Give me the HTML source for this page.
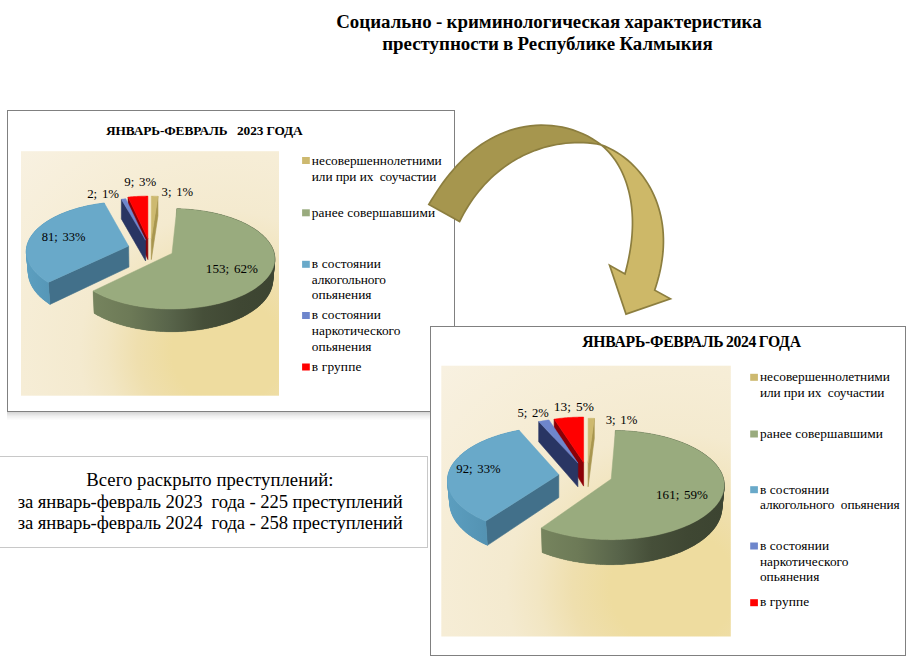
<!DOCTYPE html>
<html lang="ru"><head><meta charset="utf-8"><title>Социально-криминологическая характеристика преступности</title>
<style>html,body{margin:0;padding:0;background:#fff;}body{width:913px;height:658px;overflow:hidden;font-family:"Liberation Serif",serif;}svg{display:block;}</style>
</head><body>
<svg width="913" height="658" viewBox="0 0 913 658" font-family="'Liberation Serif', serif" fill="#000" style="white-space:pre">
<defs><linearGradient id="shv" x1="0" y1="0" x2="0" y2="1"><stop offset="0" stop-color="#000" stop-opacity="0.17"/><stop offset="0.5" stop-color="#000" stop-opacity="0.06"/><stop offset="1" stop-color="#000" stop-opacity="0"/></linearGradient></defs>
<rect width="913" height="658" fill="#fff"/>
<text x="336.20" y="28.0" font-size="18.9" font-weight="bold" xml:space="preserve" style="word-spacing:-0.367px">Социально - криминологическая характеристика</text>
<text x="382.20" y="49.9" font-size="18.9" font-weight="bold" xml:space="preserve" style="word-spacing:-0.467px">преступности в Республике Калмыкия</text>
<rect x="-1" y="456.5" width="428.5" height="91" fill="#fff" stroke="#C8C8C8" stroke-width="1"/>
<text x="86.20" y="486.1" font-size="18.67" font-weight="normal" xml:space="preserve" textLength="247.29" lengthAdjust="spacing">Всего раскрыто преступлений:</text>
<text x="17.80" y="507.8" font-size="18.67" font-weight="normal" xml:space="preserve" textLength="384.91" lengthAdjust="spacing">за январь-февраль 2023  года - 225 преступлений</text>
<text x="17.80" y="529.0" font-size="18.67" font-weight="normal" xml:space="preserve" textLength="384.91" lengthAdjust="spacing">за январь-февраль 2024  года - 258 преступлений</text>
<rect x="7" y="412" width="448" height="8.5" fill="url(#shv)"/>
<rect x="7.5" y="110.5" width="447" height="301" fill="#fff" stroke="#808080" stroke-width="1"/>
<text x="106.10" y="135.2" font-size="13.33" font-weight="bold" xml:space="preserve" textLength="196.61" lengthAdjust="spacing">ЯНВАРЬ-ФЕВРАЛЬ   2023 ГОДА</text>
<radialGradient id="bg1" cx="0.8" cy="0.82" r="1.15" fx="0.8" fy="0.82"><stop offset="0" stop-color="#EEDC9F"/><stop offset="0.187" stop-color="#EEDC9F"/><stop offset="0.303" stop-color="#EFDFAE"/><stop offset="0.406" stop-color="#F2E6C3"/><stop offset="0.5" stop-color="#F4EACF"/><stop offset="0.7" stop-color="#F6EDD6"/><stop offset="1.0" stop-color="#F8F1E1"/></radialGradient>
<rect x="21" y="151.2" width="258" height="244.5" fill="url(#bg1)"/>
<linearGradient id="gs1" gradientUnits="userSpaceOnUse" x1="92" y1="0" x2="277" y2="0"><stop offset="0" stop-color="#76845E"/><stop offset="0.2" stop-color="#6D7A57"/><stop offset="0.42" stop-color="#58644A"/><stop offset="0.6" stop-color="#464F39"/><stop offset="0.8" stop-color="#3F4733"/><stop offset="1" stop-color="#3C4431"/></linearGradient>
<linearGradient id="bs1" gradientUnits="userSpaceOnUse" x1="26" y1="0" x2="60" y2="0"><stop offset="0" stop-color="#5C9FC0"/><stop offset="1" stop-color="#5493B3"/></linearGradient>
<path d="M151.30,238.80 L157.95,196.22 L157.95,215.80 L151.30,259.57Z" fill="#A8964F" stroke="#A8964F" stroke-width="0.6"/>
<path d="M151.30,238.80 L151.30,196.11 L152.63,196.12 L153.96,196.13 L155.29,196.15 L156.62,196.18 L157.95,196.22Z" fill="#CDB96F" stroke="#CDB96F" stroke-width="0.5"/>
<path d="M147.90,238.80 L128.06,197.10 L128.06,216.70 L147.90,259.57Z" fill="#8B0006" stroke="#8B0006" stroke-width="0.6"/>
<path d="M147.90,238.80 L128.06,197.10 L129.47,196.96 L130.87,196.84 L132.28,196.72 L133.69,196.62 L135.10,196.52 L136.52,196.43 L137.94,196.36 L139.36,196.29 L140.78,196.24 L142.20,196.19 L143.63,196.16 L145.05,196.13 L146.47,196.12 L147.90,196.11Z" fill="#FF0000" stroke="#FF0000" stroke-width="0.5"/>
<path d="M145.60,240.20 L121.36,199.23 L121.36,218.89 L145.60,261.01Z" fill="#293563" stroke="#293563" stroke-width="0.6"/>
<path d="M145.60,240.20 L121.36,199.23 L122.48,199.09 L123.61,198.96 L124.74,198.83 L125.87,198.72Z" fill="#6E86CC" stroke="#6E86CC" stroke-width="0.5"/>
<path d="M128.60,246.10 L48.25,282.40 L49.98,304.39 L128.96,267.07Z" fill="#42708A" stroke="#42708A" stroke-width="0.6"/>
<path d="M48.25,282.40 L47.08,281.66 L45.95,280.92 L44.84,280.16 L43.76,279.40 L42.72,278.63 L41.71,277.85 L40.72,277.06 L39.77,276.26 L38.85,275.46 L37.96,274.65 L37.11,273.83 L36.28,273.01 L35.49,272.18 L34.73,271.35 L34.01,270.51 L33.31,269.66 L32.65,268.81 L32.02,267.96 L31.43,267.10 L30.87,266.24 L30.34,265.38 L29.84,264.51 L29.38,263.64 L28.94,262.77 L28.55,261.89 L28.18,261.01 L27.85,260.14 L27.55,259.26 L27.28,258.38 L27.05,257.49 L26.85,256.61 L26.68,255.73 L26.54,254.85 L26.44,253.97 L26.36,253.09 L26.32,252.21 L26.31,251.33 L26.34,250.46 L26.39,249.59 L26.48,248.71 L26.59,247.85 L26.74,246.98 L26.92,246.12 L27.12,245.26 L27.36,244.40 L27.63,243.55 L27.93,242.70 L28.25,241.86 L28.61,241.02 L28.99,240.18 L29.40,239.35 L29.84,238.53 L30.31,237.71 L30.81,236.89 L31.33,236.08 L31.88,235.28 L32.46,234.48 L33.07,233.69 L33.69,232.91 L34.35,232.14 L35.03,231.37 L35.74,230.60 L36.47,229.85 L37.22,229.10 L38.00,228.36 L38.80,227.63 L39.63,226.90 L40.48,226.19 L41.35,225.48 L42.25,224.78 L43.16,224.09 L44.10,223.41 L45.06,222.73 L46.04,222.07 L47.04,221.41 L48.06,220.76 L49.10,220.13 L50.16,219.50 L51.23,218.88 L52.33,218.27 L53.45,217.67 L54.58,217.08 L55.73,216.51 L56.90,215.94 L58.08,215.38 L59.28,214.83 L60.50,214.29 L61.74,213.76 L62.98,213.24 L64.25,212.74 L65.53,212.24 L66.82,211.75 L68.13,211.28 L69.45,210.81 L70.78,210.36 L72.12,209.92 L73.48,209.49 L74.85,209.07 L76.24,208.66 L77.63,208.26 L79.04,207.87 L80.45,207.50 L81.88,207.13 L83.32,206.78 L84.76,206.44 L86.22,206.11 L87.68,205.79 L89.16,205.48 L90.64,205.19 L92.13,204.90 L93.63,204.63 L95.13,204.37 L96.64,204.12 L98.16,203.88 L99.69,203.66 L101.22,203.44 L102.75,203.24 L104.29,203.05 L105.07,222.82 L103.56,223.02 L102.05,223.23 L100.54,223.45 L99.04,223.68 L97.55,223.92 L96.06,224.18 L94.58,224.44 L93.11,224.72 L91.65,225.02 L90.19,225.32 L88.74,225.64 L87.30,225.96 L85.87,226.30 L84.45,226.65 L83.04,227.02 L81.64,227.39 L80.24,227.78 L78.86,228.17 L77.49,228.58 L76.13,229.00 L74.78,229.44 L73.45,229.88 L72.13,230.34 L70.81,230.80 L69.52,231.28 L68.23,231.77 L66.96,232.27 L65.71,232.78 L64.46,233.30 L63.24,233.83 L62.02,234.37 L60.83,234.93 L59.65,235.49 L58.48,236.07 L57.33,236.65 L56.20,237.25 L55.09,237.85 L53.99,238.47 L52.91,239.09 L51.85,239.73 L50.81,240.38 L49.79,241.03 L48.79,241.69 L47.80,242.37 L46.84,243.05 L45.90,243.74 L44.98,244.45 L44.08,245.16 L43.20,245.88 L42.34,246.60 L41.51,247.34 L40.69,248.09 L39.91,248.84 L39.14,249.60 L38.40,250.37 L37.68,251.14 L36.99,251.93 L36.32,252.72 L35.67,253.52 L35.05,254.32 L34.46,255.13 L33.89,255.95 L33.35,256.78 L32.84,257.61 L32.35,258.45 L31.89,259.29 L31.45,260.14 L31.05,260.99 L30.67,261.85 L30.32,262.71 L30.00,263.58 L29.71,264.45 L29.45,265.33 L29.21,266.21 L29.01,267.09 L28.83,267.98 L28.69,268.87 L28.58,269.76 L28.49,270.66 L28.44,271.56 L28.42,272.46 L28.43,273.36 L28.47,274.26 L28.54,275.16 L28.64,276.07 L28.77,276.98 L28.94,277.88 L29.14,278.79 L29.37,279.69 L29.63,280.60 L29.93,281.50 L30.25,282.41 L30.61,283.31 L31.00,284.21 L31.43,285.10 L31.88,286.00 L32.37,286.89 L32.89,287.78 L33.44,288.67 L34.03,289.55 L34.65,290.43 L35.30,291.30 L35.98,292.17 L36.69,293.03 L37.44,293.89 L38.22,294.74 L39.03,295.59 L39.87,296.42 L40.74,297.26 L41.65,298.08 L42.58,298.90 L43.55,299.71 L44.54,300.51 L45.57,301.31 L46.63,302.09 L47.71,302.87 L48.83,303.63 L49.98,304.39Z" fill="url(#bs1)" />
<path d="M48.25,282.40 L47.08,281.66 L48.83,303.63 L49.98,304.39Z M47.08,281.66 L45.95,280.92 L47.71,302.87 L48.83,303.63Z M45.95,280.92 L44.84,280.16 L46.63,302.09 L47.71,302.87Z M44.84,280.16 L43.76,279.40 L45.57,301.31 L46.63,302.09Z M43.76,279.40 L42.72,278.63 L44.54,300.51 L45.57,301.31Z M42.72,278.63 L41.71,277.85 L43.55,299.71 L44.54,300.51Z M41.71,277.85 L40.72,277.06 L42.58,298.90 L43.55,299.71Z M40.72,277.06 L39.77,276.26 L41.65,298.08 L42.58,298.90Z M39.77,276.26 L38.85,275.46 L40.74,297.26 L41.65,298.08Z M38.85,275.46 L37.96,274.65 L39.87,296.42 L40.74,297.26Z M37.96,274.65 L37.11,273.83 L39.03,295.59 L39.87,296.42Z M37.11,273.83 L36.28,273.01 L38.22,294.74 L39.03,295.59Z M36.28,273.01 L35.49,272.18 L37.44,293.89 L38.22,294.74Z M35.49,272.18 L34.73,271.35 L36.69,293.03 L37.44,293.89Z M34.73,271.35 L34.01,270.51 L35.98,292.17 L36.69,293.03Z M34.01,270.51 L33.31,269.66 L35.30,291.30 L35.98,292.17Z M33.31,269.66 L32.65,268.81 L34.65,290.43 L35.30,291.30Z M32.65,268.81 L32.02,267.96 L34.03,289.55 L34.65,290.43Z M32.02,267.96 L31.43,267.10 L33.44,288.67 L34.03,289.55Z M31.43,267.10 L30.87,266.24 L32.89,287.78 L33.44,288.67Z M30.87,266.24 L30.34,265.38 L32.37,286.89 L32.89,287.78Z M30.34,265.38 L29.84,264.51 L31.88,286.00 L32.37,286.89Z M29.84,264.51 L29.38,263.64 L31.43,285.10 L31.88,286.00Z M29.38,263.64 L28.94,262.77 L31.00,284.21 L31.43,285.10Z M28.94,262.77 L28.55,261.89 L30.61,283.31 L31.00,284.21Z M28.55,261.89 L28.18,261.01 L30.25,282.41 L30.61,283.31Z M28.18,261.01 L27.85,260.14 L29.93,281.50 L30.25,282.41Z M27.85,260.14 L27.55,259.26 L29.63,280.60 L29.93,281.50Z M27.55,259.26 L27.28,258.38 L29.37,279.69 L29.63,280.60Z M27.28,258.38 L27.05,257.49 L29.14,278.79 L29.37,279.69Z M27.05,257.49 L26.85,256.61 L28.94,277.88 L29.14,278.79Z M26.85,256.61 L26.68,255.73 L28.77,276.98 L28.94,277.88Z M26.68,255.73 L26.54,254.85 L28.64,276.07 L28.77,276.98Z M26.54,254.85 L26.44,253.97 L28.54,275.16 L28.64,276.07Z M26.44,253.97 L26.36,253.09 L28.47,274.26 L28.54,275.16Z M26.36,253.09 L26.32,252.21 L28.43,273.36 L28.47,274.26Z M26.32,252.21 L26.31,251.33 L28.42,272.46 L28.43,273.36Z M26.31,251.33 L26.34,250.46 L28.44,271.56 L28.42,272.46Z M26.34,250.46 L26.39,249.59 L28.49,270.66 L28.44,271.56Z M26.39,249.59 L26.48,248.71 L28.58,269.76 L28.49,270.66Z M26.48,248.71 L26.59,247.85 L28.69,268.87 L28.58,269.76Z M26.59,247.85 L26.74,246.98 L28.83,267.98 L28.69,268.87Z M26.74,246.98 L26.92,246.12 L29.01,267.09 L28.83,267.98Z M26.92,246.12 L27.12,245.26 L29.21,266.21 L29.01,267.09Z M27.12,245.26 L27.36,244.40 L29.45,265.33 L29.21,266.21Z M27.36,244.40 L27.63,243.55 L29.71,264.45 L29.45,265.33Z M27.63,243.55 L27.93,242.70 L30.00,263.58 L29.71,264.45Z M27.93,242.70 L28.25,241.86 L30.32,262.71 L30.00,263.58Z M28.25,241.86 L28.61,241.02 L30.67,261.85 L30.32,262.71Z M28.61,241.02 L28.99,240.18 L31.05,260.99 L30.67,261.85Z M28.99,240.18 L29.40,239.35 L31.45,260.14 L31.05,260.99Z M29.40,239.35 L29.84,238.53 L31.89,259.29 L31.45,260.14Z M29.84,238.53 L30.31,237.71 L32.35,258.45 L31.89,259.29Z M30.31,237.71 L30.81,236.89 L32.84,257.61 L32.35,258.45Z M30.81,236.89 L31.33,236.08 L33.35,256.78 L32.84,257.61Z M31.33,236.08 L31.88,235.28 L33.89,255.95 L33.35,256.78Z M31.88,235.28 L32.46,234.48 L34.46,255.13 L33.89,255.95Z M32.46,234.48 L33.07,233.69 L35.05,254.32 L34.46,255.13Z M33.07,233.69 L33.69,232.91 L35.67,253.52 L35.05,254.32Z M33.69,232.91 L34.35,232.14 L36.32,252.72 L35.67,253.52Z M34.35,232.14 L35.03,231.37 L36.99,251.93 L36.32,252.72Z M35.03,231.37 L35.74,230.60 L37.68,251.14 L36.99,251.93Z M35.74,230.60 L36.47,229.85 L38.40,250.37 L37.68,251.14Z M36.47,229.85 L37.22,229.10 L39.14,249.60 L38.40,250.37Z M37.22,229.10 L38.00,228.36 L39.91,248.84 L39.14,249.60Z M38.00,228.36 L38.80,227.63 L40.69,248.09 L39.91,248.84Z M38.80,227.63 L39.63,226.90 L41.51,247.34 L40.69,248.09Z M39.63,226.90 L40.48,226.19 L42.34,246.60 L41.51,247.34Z M40.48,226.19 L41.35,225.48 L43.20,245.88 L42.34,246.60Z M41.35,225.48 L42.25,224.78 L44.08,245.16 L43.20,245.88Z M42.25,224.78 L43.16,224.09 L44.98,244.45 L44.08,245.16Z M43.16,224.09 L44.10,223.41 L45.90,243.74 L44.98,244.45Z M44.10,223.41 L45.06,222.73 L46.84,243.05 L45.90,243.74Z M45.06,222.73 L46.04,222.07 L47.80,242.37 L46.84,243.05Z M46.04,222.07 L47.04,221.41 L48.79,241.69 L47.80,242.37Z M47.04,221.41 L48.06,220.76 L49.79,241.03 L48.79,241.69Z M48.06,220.76 L49.10,220.13 L50.81,240.38 L49.79,241.03Z M49.10,220.13 L50.16,219.50 L51.85,239.73 L50.81,240.38Z M50.16,219.50 L51.23,218.88 L52.91,239.09 L51.85,239.73Z M51.23,218.88 L52.33,218.27 L53.99,238.47 L52.91,239.09Z M52.33,218.27 L53.45,217.67 L55.09,237.85 L53.99,238.47Z M53.45,217.67 L54.58,217.08 L56.20,237.25 L55.09,237.85Z M54.58,217.08 L55.73,216.51 L57.33,236.65 L56.20,237.25Z M55.73,216.51 L56.90,215.94 L58.48,236.07 L57.33,236.65Z M56.90,215.94 L58.08,215.38 L59.65,235.49 L58.48,236.07Z M58.08,215.38 L59.28,214.83 L60.83,234.93 L59.65,235.49Z M59.28,214.83 L60.50,214.29 L62.02,234.37 L60.83,234.93Z M60.50,214.29 L61.74,213.76 L63.24,233.83 L62.02,234.37Z M61.74,213.76 L62.98,213.24 L64.46,233.30 L63.24,233.83Z M62.98,213.24 L64.25,212.74 L65.71,232.78 L64.46,233.30Z M64.25,212.74 L65.53,212.24 L66.96,232.27 L65.71,232.78Z M65.53,212.24 L66.82,211.75 L68.23,231.77 L66.96,232.27Z M66.82,211.75 L68.13,211.28 L69.52,231.28 L68.23,231.77Z M68.13,211.28 L69.45,210.81 L70.81,230.80 L69.52,231.28Z M69.45,210.81 L70.78,210.36 L72.13,230.34 L70.81,230.80Z M70.78,210.36 L72.12,209.92 L73.45,229.88 L72.13,230.34Z M72.12,209.92 L73.48,209.49 L74.78,229.44 L73.45,229.88Z M73.48,209.49 L74.85,209.07 L76.13,229.00 L74.78,229.44Z M74.85,209.07 L76.24,208.66 L77.49,228.58 L76.13,229.00Z M76.24,208.66 L77.63,208.26 L78.86,228.17 L77.49,228.58Z M77.63,208.26 L79.04,207.87 L80.24,227.78 L78.86,228.17Z M79.04,207.87 L80.45,207.50 L81.64,227.39 L80.24,227.78Z M80.45,207.50 L81.88,207.13 L83.04,227.02 L81.64,227.39Z M81.88,207.13 L83.32,206.78 L84.45,226.65 L83.04,227.02Z M83.32,206.78 L84.76,206.44 L85.87,226.30 L84.45,226.65Z M84.76,206.44 L86.22,206.11 L87.30,225.96 L85.87,226.30Z M86.22,206.11 L87.68,205.79 L88.74,225.64 L87.30,225.96Z M87.68,205.79 L89.16,205.48 L90.19,225.32 L88.74,225.64Z M89.16,205.48 L90.64,205.19 L91.65,225.02 L90.19,225.32Z M90.64,205.19 L92.13,204.90 L93.11,224.72 L91.65,225.02Z M92.13,204.90 L93.63,204.63 L94.58,224.44 L93.11,224.72Z M93.63,204.63 L95.13,204.37 L96.06,224.18 L94.58,224.44Z M95.13,204.37 L96.64,204.12 L97.55,223.92 L96.06,224.18Z M96.64,204.12 L98.16,203.88 L99.04,223.68 L97.55,223.92Z M98.16,203.88 L99.69,203.66 L100.54,223.45 L99.04,223.68Z M99.69,203.66 L101.22,203.44 L102.05,223.23 L100.54,223.45Z M101.22,203.44 L102.75,203.24 L103.56,223.02 L102.05,223.23Z M102.75,203.24 L104.29,203.05 L105.07,222.82 L103.56,223.02Z" fill="url(#bs1)" stroke="url(#bs1)" stroke-width="0.4" stroke-linejoin="round"/>
<path d="M128.60,246.10 L48.25,282.40 L47.08,281.66 L45.95,280.92 L44.84,280.16 L43.76,279.40 L42.72,278.63 L41.71,277.85 L40.72,277.06 L39.77,276.26 L38.85,275.46 L37.96,274.65 L37.11,273.83 L36.28,273.01 L35.49,272.18 L34.73,271.35 L34.01,270.51 L33.31,269.66 L32.65,268.81 L32.02,267.96 L31.43,267.10 L30.87,266.24 L30.34,265.38 L29.84,264.51 L29.38,263.64 L28.94,262.77 L28.55,261.89 L28.18,261.01 L27.85,260.14 L27.55,259.26 L27.28,258.38 L27.05,257.49 L26.85,256.61 L26.68,255.73 L26.54,254.85 L26.44,253.97 L26.36,253.09 L26.32,252.21 L26.31,251.33 L26.34,250.46 L26.39,249.59 L26.48,248.71 L26.59,247.85 L26.74,246.98 L26.92,246.12 L27.12,245.26 L27.36,244.40 L27.63,243.55 L27.93,242.70 L28.25,241.86 L28.61,241.02 L28.99,240.18 L29.40,239.35 L29.84,238.53 L30.31,237.71 L30.81,236.89 L31.33,236.08 L31.88,235.28 L32.46,234.48 L33.07,233.69 L33.69,232.91 L34.35,232.14 L35.03,231.37 L35.74,230.60 L36.47,229.85 L37.22,229.10 L38.00,228.36 L38.80,227.63 L39.63,226.90 L40.48,226.19 L41.35,225.48 L42.25,224.78 L43.16,224.09 L44.10,223.41 L45.06,222.73 L46.04,222.07 L47.04,221.41 L48.06,220.76 L49.10,220.13 L50.16,219.50 L51.23,218.88 L52.33,218.27 L53.45,217.67 L54.58,217.08 L55.73,216.51 L56.90,215.94 L58.08,215.38 L59.28,214.83 L60.50,214.29 L61.74,213.76 L62.98,213.24 L64.25,212.74 L65.53,212.24 L66.82,211.75 L68.13,211.28 L69.45,210.81 L70.78,210.36 L72.12,209.92 L73.48,209.49 L74.85,209.07 L76.24,208.66 L77.63,208.26 L79.04,207.87 L80.45,207.50 L81.88,207.13 L83.32,206.78 L84.76,206.44 L86.22,206.11 L87.68,205.79 L89.16,205.48 L90.64,205.19 L92.13,204.90 L93.63,204.63 L95.13,204.37 L96.64,204.12 L98.16,203.88 L99.69,203.66 L101.22,203.44 L102.75,203.24 L104.29,203.05Z" fill="#69A9C9" stroke="#69A9C9" stroke-width="0.5"/>
<path d="M176.80,208.75 L178.39,208.80 L179.98,208.85 L181.58,208.92 L183.17,209.00 L184.76,209.09 L186.34,209.19 L187.92,209.31 L189.50,209.43 L191.08,209.57 L192.65,209.72 L194.22,209.89 L195.78,210.06 L197.34,210.25 L198.89,210.45 L200.43,210.66 L201.98,210.88 L203.51,211.11 L205.04,211.36 L206.56,211.62 L208.07,211.89 L209.58,212.17 L211.08,212.46 L212.57,212.77 L214.05,213.09 L215.52,213.42 L216.98,213.76 L218.43,214.11 L219.88,214.47 L221.31,214.85 L222.73,215.23 L224.14,215.63 L225.54,216.04 L226.93,216.46 L228.30,216.89 L229.66,217.33 L231.01,217.79 L232.35,218.25 L233.67,218.73 L234.98,219.21 L236.28,219.71 L237.55,220.22 L238.82,220.74 L240.07,221.27 L241.30,221.81 L242.52,222.36 L243.72,222.92 L244.90,223.49 L246.07,224.07 L247.21,224.66 L248.35,225.27 L249.46,225.88 L250.55,226.50 L251.62,227.13 L252.68,227.77 L253.71,228.42 L254.73,229.08 L255.72,229.75 L256.69,230.42 L257.64,231.11 L258.57,231.81 L259.48,232.51 L260.36,233.22 L261.23,233.94 L262.06,234.67 L262.88,235.41 L263.67,236.15 L264.44,236.91 L265.18,237.67 L265.90,238.43 L266.59,239.21 L267.25,239.99 L267.89,240.78 L268.51,241.58 L269.10,242.38 L269.66,243.19 L270.19,244.00 L270.70,244.82 L271.17,245.65 L271.62,246.48 L272.04,247.31 L272.44,248.16 L272.80,249.00 L273.13,249.85 L273.44,250.71 L273.71,251.57 L273.95,252.43 L274.17,253.30 L274.35,254.17 L274.50,255.04 L274.62,255.92 L274.71,256.80 L274.77,257.68 L274.80,258.56 L274.79,259.44 L274.76,260.33 L274.69,261.22 L274.58,262.11 L274.45,263.00 L274.28,263.88 L274.08,264.77 L273.85,265.66 L273.58,266.55 L273.28,267.44 L272.95,268.32 L272.58,269.21 L272.18,270.09 L271.75,270.97 L271.29,271.85 L270.79,272.73 L270.25,273.60 L269.69,274.47 L269.09,275.33 L268.46,276.20 L267.79,277.05 L267.09,277.90 L266.36,278.75 L265.59,279.59 L264.80,280.43 L263.97,281.26 L263.10,282.08 L262.21,282.90 L261.28,283.71 L260.32,284.51 L259.33,285.31 L258.31,286.10 L257.25,286.87 L256.17,287.64 L255.05,288.41 L253.90,289.16 L252.73,289.90 L251.52,290.63 L250.28,291.35 L249.02,292.07 L247.73,292.77 L246.40,293.46 L245.05,294.13 L243.68,294.80 L242.27,295.45 L240.84,296.10 L239.38,296.72 L237.90,297.34 L236.39,297.94 L234.86,298.53 L233.30,299.11 L231.72,299.67 L230.11,300.22 L228.49,300.75 L226.84,301.27 L225.17,301.77 L223.48,302.26 L221.77,302.73 L220.04,303.19 L218.29,303.63 L216.52,304.05 L214.73,304.46 L212.93,304.85 L211.11,305.23 L209.28,305.59 L207.43,305.93 L205.57,306.25 L203.69,306.56 L201.80,306.85 L199.90,307.12 L197.99,307.37 L196.07,307.61 L194.14,307.82 L192.20,308.02 L190.25,308.20 L188.29,308.37 L186.33,308.51 L184.36,308.64 L182.39,308.74 L180.41,308.83 L178.43,308.90 L176.45,308.95 L174.46,308.99 L172.47,309.00 L170.49,308.99 L168.50,308.97 L166.52,308.93 L164.53,308.87 L162.56,308.79 L160.58,308.69 L158.61,308.57 L156.64,308.44 L154.68,308.28 L152.73,308.11 L150.79,307.92 L148.85,307.71 L146.92,307.49 L145.01,307.24 L143.10,306.98 L141.21,306.70 L139.33,306.40 L137.46,306.08 L135.60,305.75 L133.76,305.40 L131.93,305.03 L130.12,304.65 L128.33,304.25 L126.56,303.83 L124.80,303.40 L123.06,302.95 L121.34,302.49 L119.64,302.01 L117.96,301.51 L116.30,301.00 L114.66,300.47 L113.04,299.93 L111.45,299.38 L109.88,298.81 L108.34,298.23 L106.82,297.63 L105.32,297.02 L103.85,296.40 L102.41,295.76 L100.99,295.11 L99.60,294.45 L98.24,293.78 L96.90,293.10 L95.59,292.40 L94.32,291.69 L93.07,290.98 L94.03,313.21 L95.26,313.95 L96.52,314.67 L97.80,315.39 L99.12,316.09 L100.46,316.78 L101.82,317.46 L103.22,318.13 L104.64,318.78 L106.08,319.42 L107.55,320.05 L109.05,320.66 L110.57,321.26 L112.11,321.85 L113.67,322.42 L115.26,322.97 L116.87,323.51 L118.50,324.04 L120.15,324.55 L121.82,325.04 L123.52,325.52 L125.23,325.98 L126.95,326.42 L128.70,326.85 L130.46,327.26 L132.24,327.66 L134.04,328.04 L135.85,328.40 L137.67,328.74 L139.51,329.06 L141.36,329.37 L143.22,329.66 L145.09,329.93 L146.98,330.18 L148.87,330.41 L150.77,330.63 L152.69,330.82 L154.60,331.00 L156.53,331.16 L158.46,331.30 L160.40,331.42 L162.34,331.52 L164.29,331.60 L166.24,331.66 L168.19,331.71 L170.14,331.73 L172.09,331.74 L174.04,331.72 L176.00,331.69 L177.95,331.64 L179.89,331.56 L181.84,331.47 L183.78,331.36 L185.71,331.23 L187.64,331.08 L189.56,330.92 L191.48,330.73 L193.39,330.53 L195.29,330.30 L197.17,330.06 L199.05,329.80 L200.92,329.52 L202.78,329.23 L204.62,328.91 L206.45,328.58 L208.27,328.23 L210.07,327.86 L211.86,327.47 L213.63,327.07 L215.39,326.65 L217.12,326.21 L218.84,325.76 L220.55,325.29 L222.23,324.81 L223.89,324.31 L225.53,323.79 L227.15,323.26 L228.75,322.71 L230.33,322.15 L231.88,321.57 L233.41,320.98 L234.92,320.37 L236.40,319.75 L237.86,319.12 L239.29,318.47 L240.70,317.81 L242.08,317.14 L243.44,316.45 L244.76,315.76 L246.06,315.05 L247.34,314.33 L248.58,313.60 L249.79,312.85 L250.98,312.10 L252.14,311.34 L253.26,310.57 L254.36,309.78 L255.43,308.99 L256.46,308.19 L257.47,307.38 L258.44,306.56 L259.39,305.74 L260.30,304.91 L261.18,304.07 L262.03,303.22 L262.84,302.37 L263.63,301.51 L264.38,300.64 L265.10,299.77 L265.79,298.89 L266.44,298.01 L267.06,297.13 L267.65,296.24 L268.21,295.34 L268.73,294.45 L269.22,293.55 L269.68,292.64 L270.11,291.74 L270.50,290.83 L270.86,289.92 L271.19,289.01 L271.48,288.10 L271.74,287.19 L271.97,286.27 L272.17,285.36 L272.33,284.44 L272.47,283.53 L272.57,282.62 L272.63,281.70 L272.67,280.79 L272.68,279.88 L272.65,278.98 L272.59,278.07 L272.51,277.17 L272.39,276.27 L272.24,275.37 L272.06,274.47 L271.85,273.58 L271.61,272.70 L271.34,271.81 L271.04,270.93 L270.71,270.06 L270.35,269.19 L269.97,268.32 L269.55,267.46 L269.11,266.61 L268.64,265.76 L268.15,264.92 L267.62,264.08 L267.07,263.25 L266.49,262.42 L265.89,261.61 L265.26,260.80 L264.61,259.99 L263.93,259.19 L263.22,258.41 L262.49,257.62 L261.74,256.85 L260.96,256.08 L260.16,255.33 L259.33,254.58 L258.49,253.84 L257.62,253.10 L256.73,252.38 L255.81,251.67 L254.88,250.96 L253.92,250.26 L252.95,249.58 L251.95,248.90 L250.93,248.23 L249.90,247.57 L248.84,246.92 L247.77,246.29 L246.67,245.66 L245.56,245.04 L244.43,244.43 L243.29,243.83 L242.12,243.25 L240.94,242.67 L239.75,242.10 L238.54,241.55 L237.31,241.00 L236.07,240.47 L234.81,239.95 L233.54,239.44 L232.25,238.94 L230.95,238.45 L229.64,237.97 L228.31,237.50 L226.97,237.05 L225.62,236.60 L224.26,236.17 L222.88,235.75 L221.49,235.34 L220.10,234.95 L218.69,234.56 L217.27,234.19 L215.84,233.82 L214.40,233.48 L212.96,233.14 L211.50,232.81 L210.04,232.50 L208.57,232.20 L207.08,231.91 L205.60,231.63 L204.10,231.36 L202.60,231.11 L201.09,230.87 L199.58,230.64 L198.06,230.42 L196.53,230.22 L195.00,230.03 L193.46,229.85 L191.92,229.68 L190.38,229.52 L188.83,229.38 L187.28,229.25 L185.72,229.13 L184.16,229.03 L182.60,228.93 L181.04,228.85 L179.48,228.78 L177.91,228.73 L176.34,228.68Z" fill="url(#gs1)" />
<path d="M176.80,208.75 L178.39,208.80 L177.91,228.73 L176.34,228.68Z M178.39,208.80 L179.98,208.85 L179.48,228.78 L177.91,228.73Z M179.98,208.85 L181.58,208.92 L181.04,228.85 L179.48,228.78Z M181.58,208.92 L183.17,209.00 L182.60,228.93 L181.04,228.85Z M183.17,209.00 L184.76,209.09 L184.16,229.03 L182.60,228.93Z M184.76,209.09 L186.34,209.19 L185.72,229.13 L184.16,229.03Z M186.34,209.19 L187.92,209.31 L187.28,229.25 L185.72,229.13Z M187.92,209.31 L189.50,209.43 L188.83,229.38 L187.28,229.25Z M189.50,209.43 L191.08,209.57 L190.38,229.52 L188.83,229.38Z M191.08,209.57 L192.65,209.72 L191.92,229.68 L190.38,229.52Z M192.65,209.72 L194.22,209.89 L193.46,229.85 L191.92,229.68Z M194.22,209.89 L195.78,210.06 L195.00,230.03 L193.46,229.85Z M195.78,210.06 L197.34,210.25 L196.53,230.22 L195.00,230.03Z M197.34,210.25 L198.89,210.45 L198.06,230.42 L196.53,230.22Z M198.89,210.45 L200.43,210.66 L199.58,230.64 L198.06,230.42Z M200.43,210.66 L201.98,210.88 L201.09,230.87 L199.58,230.64Z M201.98,210.88 L203.51,211.11 L202.60,231.11 L201.09,230.87Z M203.51,211.11 L205.04,211.36 L204.10,231.36 L202.60,231.11Z M205.04,211.36 L206.56,211.62 L205.60,231.63 L204.10,231.36Z M206.56,211.62 L208.07,211.89 L207.08,231.91 L205.60,231.63Z M208.07,211.89 L209.58,212.17 L208.57,232.20 L207.08,231.91Z M209.58,212.17 L211.08,212.46 L210.04,232.50 L208.57,232.20Z M211.08,212.46 L212.57,212.77 L211.50,232.81 L210.04,232.50Z M212.57,212.77 L214.05,213.09 L212.96,233.14 L211.50,232.81Z M214.05,213.09 L215.52,213.42 L214.40,233.48 L212.96,233.14Z M215.52,213.42 L216.98,213.76 L215.84,233.82 L214.40,233.48Z M216.98,213.76 L218.43,214.11 L217.27,234.19 L215.84,233.82Z M218.43,214.11 L219.88,214.47 L218.69,234.56 L217.27,234.19Z M219.88,214.47 L221.31,214.85 L220.10,234.95 L218.69,234.56Z M221.31,214.85 L222.73,215.23 L221.49,235.34 L220.10,234.95Z M222.73,215.23 L224.14,215.63 L222.88,235.75 L221.49,235.34Z M224.14,215.63 L225.54,216.04 L224.26,236.17 L222.88,235.75Z M225.54,216.04 L226.93,216.46 L225.62,236.60 L224.26,236.17Z M226.93,216.46 L228.30,216.89 L226.97,237.05 L225.62,236.60Z M228.30,216.89 L229.66,217.33 L228.31,237.50 L226.97,237.05Z M229.66,217.33 L231.01,217.79 L229.64,237.97 L228.31,237.50Z M231.01,217.79 L232.35,218.25 L230.95,238.45 L229.64,237.97Z M232.35,218.25 L233.67,218.73 L232.25,238.94 L230.95,238.45Z M233.67,218.73 L234.98,219.21 L233.54,239.44 L232.25,238.94Z M234.98,219.21 L236.28,219.71 L234.81,239.95 L233.54,239.44Z M236.28,219.71 L237.55,220.22 L236.07,240.47 L234.81,239.95Z M237.55,220.22 L238.82,220.74 L237.31,241.00 L236.07,240.47Z M238.82,220.74 L240.07,221.27 L238.54,241.55 L237.31,241.00Z M240.07,221.27 L241.30,221.81 L239.75,242.10 L238.54,241.55Z M241.30,221.81 L242.52,222.36 L240.94,242.67 L239.75,242.10Z M242.52,222.36 L243.72,222.92 L242.12,243.25 L240.94,242.67Z M243.72,222.92 L244.90,223.49 L243.29,243.83 L242.12,243.25Z M244.90,223.49 L246.07,224.07 L244.43,244.43 L243.29,243.83Z M246.07,224.07 L247.21,224.66 L245.56,245.04 L244.43,244.43Z M247.21,224.66 L248.35,225.27 L246.67,245.66 L245.56,245.04Z M248.35,225.27 L249.46,225.88 L247.77,246.29 L246.67,245.66Z M249.46,225.88 L250.55,226.50 L248.84,246.92 L247.77,246.29Z M250.55,226.50 L251.62,227.13 L249.90,247.57 L248.84,246.92Z M251.62,227.13 L252.68,227.77 L250.93,248.23 L249.90,247.57Z M252.68,227.77 L253.71,228.42 L251.95,248.90 L250.93,248.23Z M253.71,228.42 L254.73,229.08 L252.95,249.58 L251.95,248.90Z M254.73,229.08 L255.72,229.75 L253.92,250.26 L252.95,249.58Z M255.72,229.75 L256.69,230.42 L254.88,250.96 L253.92,250.26Z M256.69,230.42 L257.64,231.11 L255.81,251.67 L254.88,250.96Z M257.64,231.11 L258.57,231.81 L256.73,252.38 L255.81,251.67Z M258.57,231.81 L259.48,232.51 L257.62,253.10 L256.73,252.38Z M259.48,232.51 L260.36,233.22 L258.49,253.84 L257.62,253.10Z M260.36,233.22 L261.23,233.94 L259.33,254.58 L258.49,253.84Z M261.23,233.94 L262.06,234.67 L260.16,255.33 L259.33,254.58Z M262.06,234.67 L262.88,235.41 L260.96,256.08 L260.16,255.33Z M262.88,235.41 L263.67,236.15 L261.74,256.85 L260.96,256.08Z M263.67,236.15 L264.44,236.91 L262.49,257.62 L261.74,256.85Z M264.44,236.91 L265.18,237.67 L263.22,258.41 L262.49,257.62Z M265.18,237.67 L265.90,238.43 L263.93,259.19 L263.22,258.41Z M265.90,238.43 L266.59,239.21 L264.61,259.99 L263.93,259.19Z M266.59,239.21 L267.25,239.99 L265.26,260.80 L264.61,259.99Z M267.25,239.99 L267.89,240.78 L265.89,261.61 L265.26,260.80Z M267.89,240.78 L268.51,241.58 L266.49,262.42 L265.89,261.61Z M268.51,241.58 L269.10,242.38 L267.07,263.25 L266.49,262.42Z M269.10,242.38 L269.66,243.19 L267.62,264.08 L267.07,263.25Z M269.66,243.19 L270.19,244.00 L268.15,264.92 L267.62,264.08Z M270.19,244.00 L270.70,244.82 L268.64,265.76 L268.15,264.92Z M270.70,244.82 L271.17,245.65 L269.11,266.61 L268.64,265.76Z M271.17,245.65 L271.62,246.48 L269.55,267.46 L269.11,266.61Z M271.62,246.48 L272.04,247.31 L269.97,268.32 L269.55,267.46Z M272.04,247.31 L272.44,248.16 L270.35,269.19 L269.97,268.32Z M272.44,248.16 L272.80,249.00 L270.71,270.06 L270.35,269.19Z M272.80,249.00 L273.13,249.85 L271.04,270.93 L270.71,270.06Z M273.13,249.85 L273.44,250.71 L271.34,271.81 L271.04,270.93Z M273.44,250.71 L273.71,251.57 L271.61,272.70 L271.34,271.81Z M273.71,251.57 L273.95,252.43 L271.85,273.58 L271.61,272.70Z M273.95,252.43 L274.17,253.30 L272.06,274.47 L271.85,273.58Z M274.17,253.30 L274.35,254.17 L272.24,275.37 L272.06,274.47Z M274.35,254.17 L274.50,255.04 L272.39,276.27 L272.24,275.37Z M274.50,255.04 L274.62,255.92 L272.51,277.17 L272.39,276.27Z M274.62,255.92 L274.71,256.80 L272.59,278.07 L272.51,277.17Z M274.71,256.80 L274.77,257.68 L272.65,278.98 L272.59,278.07Z M274.77,257.68 L274.80,258.56 L272.68,279.88 L272.65,278.98Z M274.80,258.56 L274.79,259.44 L272.67,280.79 L272.68,279.88Z M274.79,259.44 L274.76,260.33 L272.63,281.70 L272.67,280.79Z M274.76,260.33 L274.69,261.22 L272.57,282.62 L272.63,281.70Z M274.69,261.22 L274.58,262.11 L272.47,283.53 L272.57,282.62Z M274.58,262.11 L274.45,263.00 L272.33,284.44 L272.47,283.53Z M274.45,263.00 L274.28,263.88 L272.17,285.36 L272.33,284.44Z M274.28,263.88 L274.08,264.77 L271.97,286.27 L272.17,285.36Z M274.08,264.77 L273.85,265.66 L271.74,287.19 L271.97,286.27Z M273.85,265.66 L273.58,266.55 L271.48,288.10 L271.74,287.19Z M273.58,266.55 L273.28,267.44 L271.19,289.01 L271.48,288.10Z M273.28,267.44 L272.95,268.32 L270.86,289.92 L271.19,289.01Z M272.95,268.32 L272.58,269.21 L270.50,290.83 L270.86,289.92Z M272.58,269.21 L272.18,270.09 L270.11,291.74 L270.50,290.83Z M272.18,270.09 L271.75,270.97 L269.68,292.64 L270.11,291.74Z M271.75,270.97 L271.29,271.85 L269.22,293.55 L269.68,292.64Z M271.29,271.85 L270.79,272.73 L268.73,294.45 L269.22,293.55Z M270.79,272.73 L270.25,273.60 L268.21,295.34 L268.73,294.45Z M270.25,273.60 L269.69,274.47 L267.65,296.24 L268.21,295.34Z M269.69,274.47 L269.09,275.33 L267.06,297.13 L267.65,296.24Z M269.09,275.33 L268.46,276.20 L266.44,298.01 L267.06,297.13Z M268.46,276.20 L267.79,277.05 L265.79,298.89 L266.44,298.01Z M267.79,277.05 L267.09,277.90 L265.10,299.77 L265.79,298.89Z M267.09,277.90 L266.36,278.75 L264.38,300.64 L265.10,299.77Z M266.36,278.75 L265.59,279.59 L263.63,301.51 L264.38,300.64Z M265.59,279.59 L264.80,280.43 L262.84,302.37 L263.63,301.51Z M264.80,280.43 L263.97,281.26 L262.03,303.22 L262.84,302.37Z M263.97,281.26 L263.10,282.08 L261.18,304.07 L262.03,303.22Z M263.10,282.08 L262.21,282.90 L260.30,304.91 L261.18,304.07Z M262.21,282.90 L261.28,283.71 L259.39,305.74 L260.30,304.91Z M261.28,283.71 L260.32,284.51 L258.44,306.56 L259.39,305.74Z M260.32,284.51 L259.33,285.31 L257.47,307.38 L258.44,306.56Z M259.33,285.31 L258.31,286.10 L256.46,308.19 L257.47,307.38Z M258.31,286.10 L257.25,286.87 L255.43,308.99 L256.46,308.19Z M257.25,286.87 L256.17,287.64 L254.36,309.78 L255.43,308.99Z M256.17,287.64 L255.05,288.41 L253.26,310.57 L254.36,309.78Z M255.05,288.41 L253.90,289.16 L252.14,311.34 L253.26,310.57Z M253.90,289.16 L252.73,289.90 L250.98,312.10 L252.14,311.34Z M252.73,289.90 L251.52,290.63 L249.79,312.85 L250.98,312.10Z M251.52,290.63 L250.28,291.35 L248.58,313.60 L249.79,312.85Z M250.28,291.35 L249.02,292.07 L247.34,314.33 L248.58,313.60Z M249.02,292.07 L247.73,292.77 L246.06,315.05 L247.34,314.33Z M247.73,292.77 L246.40,293.46 L244.76,315.76 L246.06,315.05Z M246.40,293.46 L245.05,294.13 L243.44,316.45 L244.76,315.76Z M245.05,294.13 L243.68,294.80 L242.08,317.14 L243.44,316.45Z M243.68,294.80 L242.27,295.45 L240.70,317.81 L242.08,317.14Z M242.27,295.45 L240.84,296.10 L239.29,318.47 L240.70,317.81Z M240.84,296.10 L239.38,296.72 L237.86,319.12 L239.29,318.47Z M239.38,296.72 L237.90,297.34 L236.40,319.75 L237.86,319.12Z M237.90,297.34 L236.39,297.94 L234.92,320.37 L236.40,319.75Z M236.39,297.94 L234.86,298.53 L233.41,320.98 L234.92,320.37Z M234.86,298.53 L233.30,299.11 L231.88,321.57 L233.41,320.98Z M233.30,299.11 L231.72,299.67 L230.33,322.15 L231.88,321.57Z M231.72,299.67 L230.11,300.22 L228.75,322.71 L230.33,322.15Z M230.11,300.22 L228.49,300.75 L227.15,323.26 L228.75,322.71Z M228.49,300.75 L226.84,301.27 L225.53,323.79 L227.15,323.26Z M226.84,301.27 L225.17,301.77 L223.89,324.31 L225.53,323.79Z M225.17,301.77 L223.48,302.26 L222.23,324.81 L223.89,324.31Z M223.48,302.26 L221.77,302.73 L220.55,325.29 L222.23,324.81Z M221.77,302.73 L220.04,303.19 L218.84,325.76 L220.55,325.29Z M220.04,303.19 L218.29,303.63 L217.12,326.21 L218.84,325.76Z M218.29,303.63 L216.52,304.05 L215.39,326.65 L217.12,326.21Z M216.52,304.05 L214.73,304.46 L213.63,327.07 L215.39,326.65Z M214.73,304.46 L212.93,304.85 L211.86,327.47 L213.63,327.07Z M212.93,304.85 L211.11,305.23 L210.07,327.86 L211.86,327.47Z M211.11,305.23 L209.28,305.59 L208.27,328.23 L210.07,327.86Z M209.28,305.59 L207.43,305.93 L206.45,328.58 L208.27,328.23Z M207.43,305.93 L205.57,306.25 L204.62,328.91 L206.45,328.58Z M205.57,306.25 L203.69,306.56 L202.78,329.23 L204.62,328.91Z M203.69,306.56 L201.80,306.85 L200.92,329.52 L202.78,329.23Z M201.80,306.85 L199.90,307.12 L199.05,329.80 L200.92,329.52Z M199.90,307.12 L197.99,307.37 L197.17,330.06 L199.05,329.80Z M197.99,307.37 L196.07,307.61 L195.29,330.30 L197.17,330.06Z M196.07,307.61 L194.14,307.82 L193.39,330.53 L195.29,330.30Z M194.14,307.82 L192.20,308.02 L191.48,330.73 L193.39,330.53Z M192.20,308.02 L190.25,308.20 L189.56,330.92 L191.48,330.73Z M190.25,308.20 L188.29,308.37 L187.64,331.08 L189.56,330.92Z M188.29,308.37 L186.33,308.51 L185.71,331.23 L187.64,331.08Z M186.33,308.51 L184.36,308.64 L183.78,331.36 L185.71,331.23Z M184.36,308.64 L182.39,308.74 L181.84,331.47 L183.78,331.36Z M182.39,308.74 L180.41,308.83 L179.89,331.56 L181.84,331.47Z M180.41,308.83 L178.43,308.90 L177.95,331.64 L179.89,331.56Z M178.43,308.90 L176.45,308.95 L176.00,331.69 L177.95,331.64Z M176.45,308.95 L174.46,308.99 L174.04,331.72 L176.00,331.69Z M174.46,308.99 L172.47,309.00 L172.09,331.74 L174.04,331.72Z M172.47,309.00 L170.49,308.99 L170.14,331.73 L172.09,331.74Z M170.49,308.99 L168.50,308.97 L168.19,331.71 L170.14,331.73Z M168.50,308.97 L166.52,308.93 L166.24,331.66 L168.19,331.71Z M166.52,308.93 L164.53,308.87 L164.29,331.60 L166.24,331.66Z M164.53,308.87 L162.56,308.79 L162.34,331.52 L164.29,331.60Z M162.56,308.79 L160.58,308.69 L160.40,331.42 L162.34,331.52Z M160.58,308.69 L158.61,308.57 L158.46,331.30 L160.40,331.42Z M158.61,308.57 L156.64,308.44 L156.53,331.16 L158.46,331.30Z M156.64,308.44 L154.68,308.28 L154.60,331.00 L156.53,331.16Z M154.68,308.28 L152.73,308.11 L152.69,330.82 L154.60,331.00Z M152.73,308.11 L150.79,307.92 L150.77,330.63 L152.69,330.82Z M150.79,307.92 L148.85,307.71 L148.87,330.41 L150.77,330.63Z M148.85,307.71 L146.92,307.49 L146.98,330.18 L148.87,330.41Z M146.92,307.49 L145.01,307.24 L145.09,329.93 L146.98,330.18Z M145.01,307.24 L143.10,306.98 L143.22,329.66 L145.09,329.93Z M143.10,306.98 L141.21,306.70 L141.36,329.37 L143.22,329.66Z M141.21,306.70 L139.33,306.40 L139.51,329.06 L141.36,329.37Z M139.33,306.40 L137.46,306.08 L137.67,328.74 L139.51,329.06Z M137.46,306.08 L135.60,305.75 L135.85,328.40 L137.67,328.74Z M135.60,305.75 L133.76,305.40 L134.04,328.04 L135.85,328.40Z M133.76,305.40 L131.93,305.03 L132.24,327.66 L134.04,328.04Z M131.93,305.03 L130.12,304.65 L130.46,327.26 L132.24,327.66Z M130.12,304.65 L128.33,304.25 L128.70,326.85 L130.46,327.26Z M128.33,304.25 L126.56,303.83 L126.95,326.42 L128.70,326.85Z M126.56,303.83 L124.80,303.40 L125.23,325.98 L126.95,326.42Z M124.80,303.40 L123.06,302.95 L123.52,325.52 L125.23,325.98Z M123.06,302.95 L121.34,302.49 L121.82,325.04 L123.52,325.52Z M121.34,302.49 L119.64,302.01 L120.15,324.55 L121.82,325.04Z M119.64,302.01 L117.96,301.51 L118.50,324.04 L120.15,324.55Z M117.96,301.51 L116.30,301.00 L116.87,323.51 L118.50,324.04Z M116.30,301.00 L114.66,300.47 L115.26,322.97 L116.87,323.51Z M114.66,300.47 L113.04,299.93 L113.67,322.42 L115.26,322.97Z M113.04,299.93 L111.45,299.38 L112.11,321.85 L113.67,322.42Z M111.45,299.38 L109.88,298.81 L110.57,321.26 L112.11,321.85Z M109.88,298.81 L108.34,298.23 L109.05,320.66 L110.57,321.26Z M108.34,298.23 L106.82,297.63 L107.55,320.05 L109.05,320.66Z M106.82,297.63 L105.32,297.02 L106.08,319.42 L107.55,320.05Z M105.32,297.02 L103.85,296.40 L104.64,318.78 L106.08,319.42Z M103.85,296.40 L102.41,295.76 L103.22,318.13 L104.64,318.78Z M102.41,295.76 L100.99,295.11 L101.82,317.46 L103.22,318.13Z M100.99,295.11 L99.60,294.45 L100.46,316.78 L101.82,317.46Z M99.60,294.45 L98.24,293.78 L99.12,316.09 L100.46,316.78Z M98.24,293.78 L96.90,293.10 L97.80,315.39 L99.12,316.09Z M96.90,293.10 L95.59,292.40 L96.52,314.67 L97.80,315.39Z M95.59,292.40 L94.32,291.69 L95.26,313.95 L96.52,314.67Z M94.32,291.69 L93.07,290.98 L94.03,313.21 L95.26,313.95Z" fill="url(#gs1)" stroke="url(#gs1)" stroke-width="0.4" stroke-linejoin="round"/>
<path d="M172.00,253.40 L176.80,208.75 L178.39,208.80 L179.98,208.85 L181.58,208.92 L183.17,209.00 L184.76,209.09 L186.34,209.19 L187.92,209.31 L189.50,209.43 L191.08,209.57 L192.65,209.72 L194.22,209.89 L195.78,210.06 L197.34,210.25 L198.89,210.45 L200.43,210.66 L201.98,210.88 L203.51,211.11 L205.04,211.36 L206.56,211.62 L208.07,211.89 L209.58,212.17 L211.08,212.46 L212.57,212.77 L214.05,213.09 L215.52,213.42 L216.98,213.76 L218.43,214.11 L219.88,214.47 L221.31,214.85 L222.73,215.23 L224.14,215.63 L225.54,216.04 L226.93,216.46 L228.30,216.89 L229.66,217.33 L231.01,217.79 L232.35,218.25 L233.67,218.73 L234.98,219.21 L236.28,219.71 L237.55,220.22 L238.82,220.74 L240.07,221.27 L241.30,221.81 L242.52,222.36 L243.72,222.92 L244.90,223.49 L246.07,224.07 L247.21,224.66 L248.35,225.27 L249.46,225.88 L250.55,226.50 L251.62,227.13 L252.68,227.77 L253.71,228.42 L254.73,229.08 L255.72,229.75 L256.69,230.42 L257.64,231.11 L258.57,231.81 L259.48,232.51 L260.36,233.22 L261.23,233.94 L262.06,234.67 L262.88,235.41 L263.67,236.15 L264.44,236.91 L265.18,237.67 L265.90,238.43 L266.59,239.21 L267.25,239.99 L267.89,240.78 L268.51,241.58 L269.10,242.38 L269.66,243.19 L270.19,244.00 L270.70,244.82 L271.17,245.65 L271.62,246.48 L272.04,247.31 L272.44,248.16 L272.80,249.00 L273.13,249.85 L273.44,250.71 L273.71,251.57 L273.95,252.43 L274.17,253.30 L274.35,254.17 L274.50,255.04 L274.62,255.92 L274.71,256.80 L274.77,257.68 L274.80,258.56 L274.79,259.44 L274.76,260.33 L274.69,261.22 L274.58,262.11 L274.45,263.00 L274.28,263.88 L274.08,264.77 L273.85,265.66 L273.58,266.55 L273.28,267.44 L272.95,268.32 L272.58,269.21 L272.18,270.09 L271.75,270.97 L271.29,271.85 L270.79,272.73 L270.25,273.60 L269.69,274.47 L269.09,275.33 L268.46,276.20 L267.79,277.05 L267.09,277.90 L266.36,278.75 L265.59,279.59 L264.80,280.43 L263.97,281.26 L263.10,282.08 L262.21,282.90 L261.28,283.71 L260.32,284.51 L259.33,285.31 L258.31,286.10 L257.25,286.87 L256.17,287.64 L255.05,288.41 L253.90,289.16 L252.73,289.90 L251.52,290.63 L250.28,291.35 L249.02,292.07 L247.73,292.77 L246.40,293.46 L245.05,294.13 L243.68,294.80 L242.27,295.45 L240.84,296.10 L239.38,296.72 L237.90,297.34 L236.39,297.94 L234.86,298.53 L233.30,299.11 L231.72,299.67 L230.11,300.22 L228.49,300.75 L226.84,301.27 L225.17,301.77 L223.48,302.26 L221.77,302.73 L220.04,303.19 L218.29,303.63 L216.52,304.05 L214.73,304.46 L212.93,304.85 L211.11,305.23 L209.28,305.59 L207.43,305.93 L205.57,306.25 L203.69,306.56 L201.80,306.85 L199.90,307.12 L197.99,307.37 L196.07,307.61 L194.14,307.82 L192.20,308.02 L190.25,308.20 L188.29,308.37 L186.33,308.51 L184.36,308.64 L182.39,308.74 L180.41,308.83 L178.43,308.90 L176.45,308.95 L174.46,308.99 L172.47,309.00 L170.49,308.99 L168.50,308.97 L166.52,308.93 L164.53,308.87 L162.56,308.79 L160.58,308.69 L158.61,308.57 L156.64,308.44 L154.68,308.28 L152.73,308.11 L150.79,307.92 L148.85,307.71 L146.92,307.49 L145.01,307.24 L143.10,306.98 L141.21,306.70 L139.33,306.40 L137.46,306.08 L135.60,305.75 L133.76,305.40 L131.93,305.03 L130.12,304.65 L128.33,304.25 L126.56,303.83 L124.80,303.40 L123.06,302.95 L121.34,302.49 L119.64,302.01 L117.96,301.51 L116.30,301.00 L114.66,300.47 L113.04,299.93 L111.45,299.38 L109.88,298.81 L108.34,298.23 L106.82,297.63 L105.32,297.02 L103.85,296.40 L102.41,295.76 L100.99,295.11 L99.60,294.45 L98.24,293.78 L96.90,293.10 L95.59,292.40 L94.32,291.69 L93.07,290.98Z" fill="#99AB7E" stroke="#99AB7E" stroke-width="0.5"/>
<rect x="302.1" y="157.0" width="7.7" height="7" fill="#CDB96F"/>
<text x="311.80" y="164.5" font-size="13.33" font-weight="normal" xml:space="preserve" textLength="129.92" lengthAdjust="spacing">несовершеннолетними</text>
<text x="311.80" y="180.5" font-size="13.33" font-weight="normal" xml:space="preserve" textLength="124.66" lengthAdjust="spacing">или при их  соучастии</text>
<rect x="302.1" y="209.3" width="7.7" height="7" fill="#99AB7E"/>
<text x="311.80" y="216.8" font-size="13.33" font-weight="normal" xml:space="preserve" textLength="123.28" lengthAdjust="spacing">ранее совершавшими</text>
<rect x="302.1" y="260.8" width="7.7" height="7" fill="#69A9C9"/>
<text x="311.80" y="268.1" font-size="13.33" font-weight="normal" xml:space="preserve" textLength="69.15" lengthAdjust="spacing">в состоянии</text>
<text x="311.80" y="283.9" font-size="13.33" font-weight="normal" xml:space="preserve" textLength="74.24" lengthAdjust="spacing">алкогольного</text>
<text x="311.80" y="299.3" font-size="13.33" font-weight="normal" xml:space="preserve" textLength="59.68" lengthAdjust="spacing">опьянения</text>
<rect x="302.1" y="312.0" width="7.7" height="7" fill="#6E86CC"/>
<text x="311.80" y="319.4" font-size="13.33" font-weight="normal" xml:space="preserve" textLength="69.15" lengthAdjust="spacing">в состоянии</text>
<text x="311.80" y="335.0" font-size="13.33" font-weight="normal" xml:space="preserve" textLength="88.63" lengthAdjust="spacing">наркотического</text>
<text x="311.80" y="350.5" font-size="13.33" font-weight="normal" xml:space="preserve" textLength="59.68" lengthAdjust="spacing">опьянения</text>
<rect x="302.1" y="363.5" width="7.7" height="7" fill="#FF0000"/>
<text x="311.80" y="370.7" font-size="13.33" font-weight="normal" xml:space="preserve" textLength="49.58" lengthAdjust="spacing">в группе</text>
<text x="205.85" y="273.2" font-size="13.33" font-weight="normal" xml:space="preserve" style="word-spacing:1.6px" textLength="52.11" lengthAdjust="spacingAndGlyphs">153; 62%</text>
<text x="41.71" y="240.7" font-size="13.33" font-weight="normal" xml:space="preserve" style="word-spacing:1.6px" textLength="43.74" lengthAdjust="spacingAndGlyphs">81; 33%</text>
<text x="87.13" y="197.6" font-size="13.33" font-weight="normal" xml:space="preserve" style="word-spacing:1.6px" textLength="31.94" lengthAdjust="spacingAndGlyphs">2; 1%</text>
<text x="124.33" y="185.8" font-size="13.33" font-weight="normal" xml:space="preserve" style="word-spacing:1.6px" textLength="31.94" lengthAdjust="spacingAndGlyphs">9; 3%</text>
<text x="161.55" y="195.7" font-size="13.33" font-weight="normal" xml:space="preserve" style="word-spacing:1.6px" textLength="31.53" lengthAdjust="spacingAndGlyphs">3; 1%</text>
<path d="M601.10,144.80 L605.22,146.40 L609.24,148.21 L613.17,150.24 L616.99,152.47 L620.69,154.89 L624.28,157.49 L627.73,160.26 L631.05,163.19 L634.23,166.28 L637.25,169.50 L640.13,172.86 L642.85,176.35 L645.41,179.95 L647.81,183.66 L650.04,187.47 L652.10,191.37 L653.99,195.36 L655.71,199.42 L657.25,203.54 L658.62,207.73 L659.82,211.97 L660.85,216.26 L661.70,220.59 L662.38,224.95 L662.89,229.33 L663.24,233.74 L663.42,238.16 L663.44,242.58 L663.31,247.01 L663.03,251.43 L662.60,255.85 L662.03,260.24 L661.33,264.62 L660.50,268.98 L659.55,273.30 L658.49,277.59 L657.32,281.84 L656.05,286.04 L654.70,290.20 L670.4,298.8 L626,314.1 L609.6,265.3 L625.00,274.00 L625.90,270.53 L626.75,267.06 L627.56,263.59 L628.32,260.12 L629.02,256.64 L629.67,253.15 L630.26,249.65 L630.79,246.15 L631.25,242.63 L631.64,239.11 L631.96,235.58 L632.21,232.04 L632.38,228.50 L632.47,224.95 L632.47,221.39 L632.39,217.84 L632.22,214.28 L631.97,210.73 L631.61,207.18 L631.16,203.65 L630.62,200.12 L629.97,196.61 L629.21,193.13 L628.35,189.66 L627.38,186.23 L626.30,182.84 L625.11,179.48 L623.80,176.17 L622.37,172.91 L620.82,169.72 L619.15,166.58 L617.35,163.52 L615.43,160.54 L613.38,157.65 L611.19,154.86 L608.87,152.16 L606.42,149.58 L603.83,147.13 L601.10,144.80 Z" fill="#CDB868" stroke="#8C7E3F" stroke-width="1.7" stroke-linejoin="miter"/><path d="M428.80,204.50 L431.47,200.06 L434.25,195.60 L437.13,191.16 L440.12,186.74 L443.24,182.37 L446.47,178.06 L449.83,173.83 L453.32,169.69 L456.93,165.66 L460.68,161.75 L464.55,157.98 L468.55,154.36 L472.68,150.91 L476.94,147.62 L481.32,144.53 L485.81,141.63 L490.42,138.94 L495.13,136.46 L499.95,134.21 L504.86,132.20 L509.86,130.42 L514.94,128.89 L520.08,127.62 L525.29,126.61 L530.54,125.87 L535.83,125.39 L541.14,125.19 L546.46,125.27 L551.78,125.63 L557.08,126.27 L562.34,127.19 L567.56,128.40 L572.70,129.90 L577.76,131.68 L582.72,133.74 L587.55,136.09 L592.24,138.72 L596.76,141.62 L601.10,144.80 L601.10,144.80 L596.75,144.01 L592.37,143.40 L587.95,142.96 L583.52,142.68 L579.07,142.57 L574.62,142.63 L570.16,142.86 L565.72,143.24 L561.29,143.79 L556.89,144.49 L552.51,145.36 L548.17,146.37 L543.87,147.54 L539.62,148.86 L535.42,150.33 L531.27,151.95 L527.19,153.70 L523.17,155.60 L519.22,157.63 L515.35,159.80 L511.55,162.10 L507.84,164.52 L504.21,167.07 L500.67,169.74 L497.23,172.53 L493.87,175.43 L490.62,178.44 L487.46,181.56 L484.40,184.78 L481.45,188.09 L478.60,191.50 L475.85,195.00 L473.21,198.58 L470.67,202.25 L468.24,205.99 L465.92,209.80 L463.71,213.67 L461.60,217.61 L459.60,221.60 Z" fill="#A6964E" stroke="#8C7E3F" stroke-width="1.7" stroke-linejoin="miter"/>
<rect x="430.5" y="326.5" width="475" height="329" fill="#fff" stroke="#808080" stroke-width="1"/>
<text x="582.30" y="346.9" font-size="15.7" font-weight="bold" xml:space="preserve" style="word-spacing:-1.2px" textLength="218.67" lengthAdjust="spacing">ЯНВАРЬ-ФЕВРАЛЬ 2024 ГОДА</text>
<radialGradient id="bg2" cx="0.8" cy="0.82" r="1.15" fx="0.8" fy="0.82"><stop offset="0" stop-color="#EEDC9F"/><stop offset="0.187" stop-color="#EEDC9F"/><stop offset="0.303" stop-color="#EFDFAE"/><stop offset="0.406" stop-color="#F2E6C3"/><stop offset="0.5" stop-color="#F4EACF"/><stop offset="0.7" stop-color="#F6EDD6"/><stop offset="1.0" stop-color="#F8F1E1"/></radialGradient>
<rect x="441.3" y="365.7" width="289.49999999999994" height="270.8" fill="url(#bg2)"/>
<linearGradient id="gs2" gradientUnits="userSpaceOnUse" x1="541" y1="0" x2="725" y2="0"><stop offset="0" stop-color="#76845E"/><stop offset="0.2" stop-color="#6D7A57"/><stop offset="0.42" stop-color="#58644A"/><stop offset="0.6" stop-color="#464F39"/><stop offset="0.8" stop-color="#3F4733"/><stop offset="1" stop-color="#3C4431"/></linearGradient>
<linearGradient id="bs2" gradientUnits="userSpaceOnUse" x1="445" y1="0" x2="485" y2="0"><stop offset="0" stop-color="#5C9FC0"/><stop offset="1" stop-color="#5493B3"/></linearGradient>
<path d="M588.10,463.10 L594.34,418.33 L594.34,438.26 L588.10,486.80Z" fill="#A8964F" stroke="#A8964F" stroke-width="0.6"/>
<path d="M588.10,463.10 L588.10,418.24 L589.66,418.25 L591.22,418.26 L592.78,418.29 L594.34,418.33Z" fill="#CDB96F" stroke="#CDB96F" stroke-width="0.5"/>
<path d="M583.60,462.40 L554.13,419.08 L554.13,439.04 L583.60,486.10Z" fill="#8B0006" stroke="#8B0006" stroke-width="0.6"/>
<path d="M583.60,462.40 L554.13,419.08 L555.64,418.88 L557.17,418.68 L558.70,418.49 L560.23,418.32 L561.77,418.16 L563.31,418.01 L564.86,417.86 L566.41,417.74 L567.96,417.62 L569.51,417.51 L571.07,417.41 L572.63,417.33 L574.20,417.26 L575.76,417.20 L577.33,417.14 L578.89,417.11 L580.46,417.08 L582.03,417.06 L583.60,417.05Z" fill="#FF0000" stroke="#FF0000" stroke-width="0.5"/>
<path d="M577.90,463.10 L538.68,421.62 L538.68,441.68 L577.90,486.80Z" fill="#293563" stroke="#293563" stroke-width="0.6"/>
<path d="M577.90,463.10 L538.68,421.62 L540.14,421.34 L541.61,421.07 L543.08,420.82 L544.55,420.57 L546.04,420.34 L547.53,420.12 L549.02,419.90Z" fill="#6E86CC" stroke="#6E86CC" stroke-width="0.5"/>
<path d="M558.80,474.60 L485.72,521.12 L487.40,545.37 L558.80,497.60Z" fill="#42708A" stroke="#42708A" stroke-width="0.6"/>
<path d="M485.72,521.12 L484.14,520.45 L482.60,519.76 L481.08,519.06 L479.60,518.35 L478.14,517.62 L476.71,516.88 L475.32,516.13 L473.95,515.37 L472.62,514.60 L471.32,513.81 L470.05,513.02 L468.81,512.21 L467.61,511.40 L466.44,510.57 L465.30,509.74 L464.20,508.90 L463.13,508.04 L462.09,507.19 L461.09,506.32 L460.13,505.44 L459.20,504.56 L458.30,503.67 L457.44,502.78 L456.61,501.88 L455.82,500.97 L455.07,500.06 L454.35,499.14 L453.67,498.22 L453.02,497.30 L452.41,496.37 L451.84,495.43 L451.30,494.50 L450.80,493.56 L450.33,492.62 L449.90,491.67 L449.50,490.73 L449.14,489.78 L448.82,488.83 L448.53,487.88 L448.28,486.93 L448.06,485.98 L447.88,485.03 L447.73,484.08 L447.62,483.13 L447.55,482.18 L447.50,481.23 L447.50,480.29 L447.52,479.34 L447.58,478.40 L447.68,477.46 L447.81,476.52 L447.97,475.59 L448.17,474.66 L448.39,473.73 L448.66,472.81 L448.95,471.89 L449.28,470.98 L449.63,470.07 L450.02,469.16 L450.44,468.26 L450.89,467.37 L451.38,466.48 L451.89,465.60 L452.43,464.72 L453.00,463.85 L453.60,462.99 L454.23,462.13 L454.89,461.28 L455.58,460.44 L456.30,459.60 L457.04,458.77 L457.81,457.95 L458.61,457.14 L459.43,456.33 L460.28,455.54 L461.15,454.75 L462.05,453.97 L462.98,453.20 L463.93,452.43 L464.90,451.68 L465.90,450.94 L466.92,450.20 L467.96,449.48 L469.03,448.76 L470.12,448.06 L471.23,447.36 L472.36,446.68 L473.51,446.00 L474.69,445.34 L475.88,444.68 L477.09,444.04 L478.33,443.40 L479.58,442.78 L480.85,442.17 L482.14,441.57 L483.45,440.98 L484.77,440.40 L486.11,439.83 L487.47,439.27 L488.84,438.73 L490.23,438.20 L491.64,437.67 L493.06,437.16 L494.49,436.66 L495.94,436.18 L497.40,435.70 L498.88,435.24 L500.37,434.78 L501.87,434.34 L503.39,433.92 L504.91,433.50 L506.45,433.10 L508.00,432.71 L509.56,432.33 L511.13,431.96 L512.72,431.60 L514.31,431.26 L515.91,430.93 L517.52,430.61 L519.13,430.31 L520.25,450.74 L518.66,451.06 L517.08,451.39 L515.51,451.74 L513.94,452.09 L512.39,452.46 L510.85,452.84 L509.31,453.24 L507.79,453.65 L506.28,454.07 L504.77,454.50 L503.29,454.95 L501.81,455.41 L500.34,455.88 L498.89,456.36 L497.45,456.86 L496.03,457.36 L494.62,457.88 L493.22,458.42 L491.84,458.96 L490.48,459.52 L489.13,460.08 L487.79,460.66 L486.47,461.26 L485.17,461.86 L483.89,462.47 L482.62,463.10 L481.37,463.74 L480.14,464.39 L478.93,465.05 L477.74,465.72 L476.56,466.40 L475.41,467.09 L474.28,467.80 L473.16,468.51 L472.07,469.24 L471.00,469.97 L469.95,470.72 L468.93,471.47 L467.92,472.24 L466.94,473.01 L465.99,473.80 L465.05,474.59 L464.14,475.39 L463.26,476.21 L462.40,477.03 L461.56,477.86 L460.75,478.70 L459.97,479.54 L459.21,480.40 L458.48,481.26 L457.78,482.13 L457.11,483.01 L456.46,483.90 L455.84,484.79 L455.25,485.69 L454.68,486.60 L454.15,487.51 L453.65,488.43 L453.17,489.36 L452.73,490.29 L452.32,491.23 L451.93,492.17 L451.58,493.12 L451.26,494.07 L450.97,495.03 L450.72,495.99 L450.49,496.96 L450.30,497.93 L450.14,498.90 L450.01,499.87 L449.92,500.85 L449.86,501.83 L449.83,502.82 L449.84,503.80 L449.88,504.79 L449.96,505.78 L450.07,506.77 L450.21,507.76 L450.39,508.75 L450.60,509.74 L450.85,510.73 L451.13,511.72 L451.45,512.71 L451.81,513.70 L452.19,514.68 L452.62,515.67 L453.08,516.65 L453.57,517.63 L454.10,518.60 L454.67,519.57 L455.27,520.54 L455.90,521.51 L456.57,522.47 L457.28,523.42 L458.02,524.37 L458.80,525.32 L459.61,526.26 L460.45,527.19 L461.33,528.11 L462.25,529.03 L463.20,529.94 L464.18,530.85 L465.20,531.74 L466.25,532.63 L467.34,533.51 L468.45,534.38 L469.60,535.23 L470.79,536.08 L472.00,536.92 L473.25,537.75 L474.53,538.57 L475.84,539.37 L477.18,540.17 L478.55,540.95 L479.96,541.72 L481.39,542.48 L482.85,543.22 L484.34,543.95 L485.86,544.67 L487.40,545.37Z" fill="url(#bs2)" />
<path d="M485.72,521.12 L484.14,520.45 L485.86,544.67 L487.40,545.37Z M484.14,520.45 L482.60,519.76 L484.34,543.95 L485.86,544.67Z M482.60,519.76 L481.08,519.06 L482.85,543.22 L484.34,543.95Z M481.08,519.06 L479.60,518.35 L481.39,542.48 L482.85,543.22Z M479.60,518.35 L478.14,517.62 L479.96,541.72 L481.39,542.48Z M478.14,517.62 L476.71,516.88 L478.55,540.95 L479.96,541.72Z M476.71,516.88 L475.32,516.13 L477.18,540.17 L478.55,540.95Z M475.32,516.13 L473.95,515.37 L475.84,539.37 L477.18,540.17Z M473.95,515.37 L472.62,514.60 L474.53,538.57 L475.84,539.37Z M472.62,514.60 L471.32,513.81 L473.25,537.75 L474.53,538.57Z M471.32,513.81 L470.05,513.02 L472.00,536.92 L473.25,537.75Z M470.05,513.02 L468.81,512.21 L470.79,536.08 L472.00,536.92Z M468.81,512.21 L467.61,511.40 L469.60,535.23 L470.79,536.08Z M467.61,511.40 L466.44,510.57 L468.45,534.38 L469.60,535.23Z M466.44,510.57 L465.30,509.74 L467.34,533.51 L468.45,534.38Z M465.30,509.74 L464.20,508.90 L466.25,532.63 L467.34,533.51Z M464.20,508.90 L463.13,508.04 L465.20,531.74 L466.25,532.63Z M463.13,508.04 L462.09,507.19 L464.18,530.85 L465.20,531.74Z M462.09,507.19 L461.09,506.32 L463.20,529.94 L464.18,530.85Z M461.09,506.32 L460.13,505.44 L462.25,529.03 L463.20,529.94Z M460.13,505.44 L459.20,504.56 L461.33,528.11 L462.25,529.03Z M459.20,504.56 L458.30,503.67 L460.45,527.19 L461.33,528.11Z M458.30,503.67 L457.44,502.78 L459.61,526.26 L460.45,527.19Z M457.44,502.78 L456.61,501.88 L458.80,525.32 L459.61,526.26Z M456.61,501.88 L455.82,500.97 L458.02,524.37 L458.80,525.32Z M455.82,500.97 L455.07,500.06 L457.28,523.42 L458.02,524.37Z M455.07,500.06 L454.35,499.14 L456.57,522.47 L457.28,523.42Z M454.35,499.14 L453.67,498.22 L455.90,521.51 L456.57,522.47Z M453.67,498.22 L453.02,497.30 L455.27,520.54 L455.90,521.51Z M453.02,497.30 L452.41,496.37 L454.67,519.57 L455.27,520.54Z M452.41,496.37 L451.84,495.43 L454.10,518.60 L454.67,519.57Z M451.84,495.43 L451.30,494.50 L453.57,517.63 L454.10,518.60Z M451.30,494.50 L450.80,493.56 L453.08,516.65 L453.57,517.63Z M450.80,493.56 L450.33,492.62 L452.62,515.67 L453.08,516.65Z M450.33,492.62 L449.90,491.67 L452.19,514.68 L452.62,515.67Z M449.90,491.67 L449.50,490.73 L451.81,513.70 L452.19,514.68Z M449.50,490.73 L449.14,489.78 L451.45,512.71 L451.81,513.70Z M449.14,489.78 L448.82,488.83 L451.13,511.72 L451.45,512.71Z M448.82,488.83 L448.53,487.88 L450.85,510.73 L451.13,511.72Z M448.53,487.88 L448.28,486.93 L450.60,509.74 L450.85,510.73Z M448.28,486.93 L448.06,485.98 L450.39,508.75 L450.60,509.74Z M448.06,485.98 L447.88,485.03 L450.21,507.76 L450.39,508.75Z M447.88,485.03 L447.73,484.08 L450.07,506.77 L450.21,507.76Z M447.73,484.08 L447.62,483.13 L449.96,505.78 L450.07,506.77Z M447.62,483.13 L447.55,482.18 L449.88,504.79 L449.96,505.78Z M447.55,482.18 L447.50,481.23 L449.84,503.80 L449.88,504.79Z M447.50,481.23 L447.50,480.29 L449.83,502.82 L449.84,503.80Z M447.50,480.29 L447.52,479.34 L449.86,501.83 L449.83,502.82Z M447.52,479.34 L447.58,478.40 L449.92,500.85 L449.86,501.83Z M447.58,478.40 L447.68,477.46 L450.01,499.87 L449.92,500.85Z M447.68,477.46 L447.81,476.52 L450.14,498.90 L450.01,499.87Z M447.81,476.52 L447.97,475.59 L450.30,497.93 L450.14,498.90Z M447.97,475.59 L448.17,474.66 L450.49,496.96 L450.30,497.93Z M448.17,474.66 L448.39,473.73 L450.72,495.99 L450.49,496.96Z M448.39,473.73 L448.66,472.81 L450.97,495.03 L450.72,495.99Z M448.66,472.81 L448.95,471.89 L451.26,494.07 L450.97,495.03Z M448.95,471.89 L449.28,470.98 L451.58,493.12 L451.26,494.07Z M449.28,470.98 L449.63,470.07 L451.93,492.17 L451.58,493.12Z M449.63,470.07 L450.02,469.16 L452.32,491.23 L451.93,492.17Z M450.02,469.16 L450.44,468.26 L452.73,490.29 L452.32,491.23Z M450.44,468.26 L450.89,467.37 L453.17,489.36 L452.73,490.29Z M450.89,467.37 L451.38,466.48 L453.65,488.43 L453.17,489.36Z M451.38,466.48 L451.89,465.60 L454.15,487.51 L453.65,488.43Z M451.89,465.60 L452.43,464.72 L454.68,486.60 L454.15,487.51Z M452.43,464.72 L453.00,463.85 L455.25,485.69 L454.68,486.60Z M453.00,463.85 L453.60,462.99 L455.84,484.79 L455.25,485.69Z M453.60,462.99 L454.23,462.13 L456.46,483.90 L455.84,484.79Z M454.23,462.13 L454.89,461.28 L457.11,483.01 L456.46,483.90Z M454.89,461.28 L455.58,460.44 L457.78,482.13 L457.11,483.01Z M455.58,460.44 L456.30,459.60 L458.48,481.26 L457.78,482.13Z M456.30,459.60 L457.04,458.77 L459.21,480.40 L458.48,481.26Z M457.04,458.77 L457.81,457.95 L459.97,479.54 L459.21,480.40Z M457.81,457.95 L458.61,457.14 L460.75,478.70 L459.97,479.54Z M458.61,457.14 L459.43,456.33 L461.56,477.86 L460.75,478.70Z M459.43,456.33 L460.28,455.54 L462.40,477.03 L461.56,477.86Z M460.28,455.54 L461.15,454.75 L463.26,476.21 L462.40,477.03Z M461.15,454.75 L462.05,453.97 L464.14,475.39 L463.26,476.21Z M462.05,453.97 L462.98,453.20 L465.05,474.59 L464.14,475.39Z M462.98,453.20 L463.93,452.43 L465.99,473.80 L465.05,474.59Z M463.93,452.43 L464.90,451.68 L466.94,473.01 L465.99,473.80Z M464.90,451.68 L465.90,450.94 L467.92,472.24 L466.94,473.01Z M465.90,450.94 L466.92,450.20 L468.93,471.47 L467.92,472.24Z M466.92,450.20 L467.96,449.48 L469.95,470.72 L468.93,471.47Z M467.96,449.48 L469.03,448.76 L471.00,469.97 L469.95,470.72Z M469.03,448.76 L470.12,448.06 L472.07,469.24 L471.00,469.97Z M470.12,448.06 L471.23,447.36 L473.16,468.51 L472.07,469.24Z M471.23,447.36 L472.36,446.68 L474.28,467.80 L473.16,468.51Z M472.36,446.68 L473.51,446.00 L475.41,467.09 L474.28,467.80Z M473.51,446.00 L474.69,445.34 L476.56,466.40 L475.41,467.09Z M474.69,445.34 L475.88,444.68 L477.74,465.72 L476.56,466.40Z M475.88,444.68 L477.09,444.04 L478.93,465.05 L477.74,465.72Z M477.09,444.04 L478.33,443.40 L480.14,464.39 L478.93,465.05Z M478.33,443.40 L479.58,442.78 L481.37,463.74 L480.14,464.39Z M479.58,442.78 L480.85,442.17 L482.62,463.10 L481.37,463.74Z M480.85,442.17 L482.14,441.57 L483.89,462.47 L482.62,463.10Z M482.14,441.57 L483.45,440.98 L485.17,461.86 L483.89,462.47Z M483.45,440.98 L484.77,440.40 L486.47,461.26 L485.17,461.86Z M484.77,440.40 L486.11,439.83 L487.79,460.66 L486.47,461.26Z M486.11,439.83 L487.47,439.27 L489.13,460.08 L487.79,460.66Z M487.47,439.27 L488.84,438.73 L490.48,459.52 L489.13,460.08Z M488.84,438.73 L490.23,438.20 L491.84,458.96 L490.48,459.52Z M490.23,438.20 L491.64,437.67 L493.22,458.42 L491.84,458.96Z M491.64,437.67 L493.06,437.16 L494.62,457.88 L493.22,458.42Z M493.06,437.16 L494.49,436.66 L496.03,457.36 L494.62,457.88Z M494.49,436.66 L495.94,436.18 L497.45,456.86 L496.03,457.36Z M495.94,436.18 L497.40,435.70 L498.89,456.36 L497.45,456.86Z M497.40,435.70 L498.88,435.24 L500.34,455.88 L498.89,456.36Z M498.88,435.24 L500.37,434.78 L501.81,455.41 L500.34,455.88Z M500.37,434.78 L501.87,434.34 L503.29,454.95 L501.81,455.41Z M501.87,434.34 L503.39,433.92 L504.77,454.50 L503.29,454.95Z M503.39,433.92 L504.91,433.50 L506.28,454.07 L504.77,454.50Z M504.91,433.50 L506.45,433.10 L507.79,453.65 L506.28,454.07Z M506.45,433.10 L508.00,432.71 L509.31,453.24 L507.79,453.65Z M508.00,432.71 L509.56,432.33 L510.85,452.84 L509.31,453.24Z M509.56,432.33 L511.13,431.96 L512.39,452.46 L510.85,452.84Z M511.13,431.96 L512.72,431.60 L513.94,452.09 L512.39,452.46Z M512.72,431.60 L514.31,431.26 L515.51,451.74 L513.94,452.09Z M514.31,431.26 L515.91,430.93 L517.08,451.39 L515.51,451.74Z M515.91,430.93 L517.52,430.61 L518.66,451.06 L517.08,451.39Z M517.52,430.61 L519.13,430.31 L520.25,450.74 L518.66,451.06Z" fill="url(#bs2)" stroke="url(#bs2)" stroke-width="0.4" stroke-linejoin="round"/>
<path d="M558.80,474.60 L485.72,521.12 L484.14,520.45 L482.60,519.76 L481.08,519.06 L479.60,518.35 L478.14,517.62 L476.71,516.88 L475.32,516.13 L473.95,515.37 L472.62,514.60 L471.32,513.81 L470.05,513.02 L468.81,512.21 L467.61,511.40 L466.44,510.57 L465.30,509.74 L464.20,508.90 L463.13,508.04 L462.09,507.19 L461.09,506.32 L460.13,505.44 L459.20,504.56 L458.30,503.67 L457.44,502.78 L456.61,501.88 L455.82,500.97 L455.07,500.06 L454.35,499.14 L453.67,498.22 L453.02,497.30 L452.41,496.37 L451.84,495.43 L451.30,494.50 L450.80,493.56 L450.33,492.62 L449.90,491.67 L449.50,490.73 L449.14,489.78 L448.82,488.83 L448.53,487.88 L448.28,486.93 L448.06,485.98 L447.88,485.03 L447.73,484.08 L447.62,483.13 L447.55,482.18 L447.50,481.23 L447.50,480.29 L447.52,479.34 L447.58,478.40 L447.68,477.46 L447.81,476.52 L447.97,475.59 L448.17,474.66 L448.39,473.73 L448.66,472.81 L448.95,471.89 L449.28,470.98 L449.63,470.07 L450.02,469.16 L450.44,468.26 L450.89,467.37 L451.38,466.48 L451.89,465.60 L452.43,464.72 L453.00,463.85 L453.60,462.99 L454.23,462.13 L454.89,461.28 L455.58,460.44 L456.30,459.60 L457.04,458.77 L457.81,457.95 L458.61,457.14 L459.43,456.33 L460.28,455.54 L461.15,454.75 L462.05,453.97 L462.98,453.20 L463.93,452.43 L464.90,451.68 L465.90,450.94 L466.92,450.20 L467.96,449.48 L469.03,448.76 L470.12,448.06 L471.23,447.36 L472.36,446.68 L473.51,446.00 L474.69,445.34 L475.88,444.68 L477.09,444.04 L478.33,443.40 L479.58,442.78 L480.85,442.17 L482.14,441.57 L483.45,440.98 L484.77,440.40 L486.11,439.83 L487.47,439.27 L488.84,438.73 L490.23,438.20 L491.64,437.67 L493.06,437.16 L494.49,436.66 L495.94,436.18 L497.40,435.70 L498.88,435.24 L500.37,434.78 L501.87,434.34 L503.39,433.92 L504.91,433.50 L506.45,433.10 L508.00,432.71 L509.56,432.33 L511.13,431.96 L512.72,431.60 L514.31,431.26 L515.91,430.93 L517.52,430.61 L519.13,430.31Z" fill="#69A9C9" stroke="#69A9C9" stroke-width="0.5"/>
<path d="M615.41,430.49 L617.15,430.53 L618.90,430.58 L620.64,430.64 L622.38,430.72 L624.12,430.81 L625.86,430.91 L627.59,431.03 L629.32,431.16 L631.05,431.30 L632.77,431.45 L634.49,431.62 L636.20,431.80 L637.91,432.00 L639.61,432.20 L641.30,432.42 L642.99,432.66 L644.68,432.90 L646.35,433.16 L648.02,433.43 L649.69,433.71 L651.34,434.01 L652.99,434.32 L654.62,434.64 L656.25,434.98 L657.87,435.32 L659.48,435.68 L661.07,436.06 L662.66,436.44 L664.24,436.84 L665.80,437.25 L667.35,437.67 L668.89,438.10 L670.42,438.55 L671.94,439.01 L673.44,439.48 L674.93,439.96 L676.40,440.46 L677.86,440.96 L679.31,441.48 L680.73,442.01 L682.15,442.55 L683.55,443.11 L684.93,443.67 L686.29,444.25 L687.64,444.84 L688.97,445.44 L690.28,446.05 L691.57,446.67 L692.84,447.30 L694.10,447.94 L695.33,448.60 L696.54,449.26 L697.74,449.94 L698.91,450.63 L700.06,451.32 L701.19,452.03 L702.30,452.75 L703.38,453.47 L704.45,454.21 L705.48,454.95 L706.50,455.71 L707.49,456.48 L708.46,457.25 L709.40,458.03 L710.31,458.83 L711.20,459.63 L712.07,460.44 L712.90,461.25 L713.71,462.08 L714.50,462.91 L715.25,463.76 L715.98,464.61 L716.68,465.46 L717.35,466.33 L717.99,467.20 L718.60,468.08 L719.18,468.96 L719.74,469.85 L720.26,470.75 L720.75,471.65 L721.21,472.56 L721.63,473.48 L722.03,474.40 L722.39,475.32 L722.72,476.25 L723.02,477.19 L723.29,478.12 L723.52,479.07 L723.72,480.01 L723.88,480.96 L724.01,481.91 L724.11,482.87 L724.17,483.82 L724.20,484.78 L724.19,485.75 L724.15,486.71 L724.07,487.67 L723.96,488.64 L723.81,489.60 L723.62,490.57 L723.40,491.54 L723.14,492.50 L722.85,493.47 L722.52,494.43 L722.15,495.40 L721.75,496.36 L721.31,497.32 L720.84,498.28 L720.32,499.23 L719.77,500.18 L719.19,501.13 L718.57,502.08 L717.91,503.02 L717.21,503.95 L716.48,504.88 L715.71,505.81 L714.91,506.73 L714.07,507.65 L713.19,508.56 L712.28,509.46 L711.33,510.35 L710.35,511.24 L709.33,512.12 L708.28,513.00 L707.19,513.86 L706.06,514.72 L704.91,515.56 L703.71,516.40 L702.49,517.23 L701.23,518.05 L699.94,518.85 L698.61,519.65 L697.26,520.44 L695.87,521.21 L694.45,521.97 L692.99,522.72 L691.51,523.46 L690.00,524.18 L688.45,524.90 L686.88,525.59 L685.28,526.28 L683.65,526.95 L682.00,527.61 L680.31,528.25 L678.60,528.87 L676.87,529.48 L675.10,530.08 L673.32,530.66 L671.51,531.22 L669.67,531.77 L667.81,532.30 L665.94,532.82 L664.03,533.31 L662.11,533.79 L660.17,534.26 L658.21,534.70 L656.23,535.13 L654.23,535.54 L652.22,535.93 L650.19,536.30 L648.14,536.65 L646.08,536.98 L644.01,537.30 L641.92,537.59 L639.82,537.87 L637.71,538.13 L635.59,538.36 L633.46,538.58 L631.31,538.78 L629.17,538.96 L627.01,539.11 L624.85,539.25 L622.68,539.37 L620.51,539.46 L618.33,539.54 L616.15,539.60 L613.97,539.63 L611.79,539.65 L609.61,539.64 L607.42,539.62 L605.24,539.57 L603.07,539.51 L600.89,539.42 L598.72,539.32 L596.56,539.19 L594.40,539.04 L592.24,538.88 L590.10,538.69 L587.96,538.48 L585.83,538.26 L583.72,538.01 L581.61,537.74 L579.52,537.46 L577.43,537.16 L575.37,536.83 L573.31,536.49 L571.27,536.13 L569.25,535.75 L567.24,535.35 L565.25,534.93 L563.28,534.50 L561.33,534.05 L559.40,533.57 L557.49,533.09 L555.60,532.58 L553.73,532.06 L551.88,531.52 L550.06,530.97 L548.26,530.40 L546.48,529.81 L544.73,529.21 L543.01,528.59 L541.31,527.95 L542.05,552.49 L543.72,553.15 L545.42,553.79 L547.14,554.42 L548.88,555.03 L550.65,555.63 L552.44,556.21 L554.26,556.77 L556.10,557.31 L557.95,557.84 L559.83,558.35 L561.73,558.84 L563.65,559.31 L565.59,559.76 L567.54,560.19 L569.52,560.61 L571.51,561.01 L573.51,561.38 L575.53,561.74 L577.56,562.08 L579.61,562.39 L581.67,562.69 L583.74,562.97 L585.82,563.22 L587.91,563.46 L590.01,563.67 L592.12,563.87 L594.24,564.04 L596.36,564.20 L598.49,564.33 L600.62,564.44 L602.76,564.53 L604.90,564.60 L607.04,564.64 L609.19,564.67 L611.33,564.67 L613.48,564.66 L615.62,564.62 L617.76,564.56 L619.90,564.48 L622.04,564.38 L624.17,564.26 L626.30,564.12 L628.42,563.95 L630.53,563.77 L632.63,563.56 L634.73,563.33 L636.81,563.09 L638.89,562.82 L640.95,562.53 L643.01,562.22 L645.04,561.90 L647.07,561.55 L649.08,561.18 L651.08,560.79 L653.06,560.39 L655.02,559.96 L656.97,559.52 L658.89,559.05 L660.80,558.57 L662.69,558.07 L664.56,557.56 L666.41,557.02 L668.23,556.47 L670.04,555.90 L671.82,555.31 L673.57,554.70 L675.30,554.08 L677.01,553.45 L678.69,552.79 L680.35,552.13 L681.98,551.44 L683.58,550.74 L685.15,550.03 L686.70,549.30 L688.21,548.56 L689.70,547.81 L691.16,547.04 L692.58,546.26 L693.98,545.46 L695.35,544.65 L696.68,543.84 L697.98,543.01 L699.25,542.17 L700.49,541.31 L701.70,540.45 L702.87,539.58 L704.01,538.70 L705.11,537.80 L706.18,536.90 L707.22,535.99 L708.22,535.08 L709.18,534.15 L710.12,533.22 L711.01,532.28 L711.87,531.33 L712.70,530.37 L713.49,529.41 L714.25,528.45 L714.96,527.48 L715.65,526.50 L716.30,525.52 L716.91,524.54 L717.48,523.55 L718.02,522.56 L718.53,521.56 L718.99,520.56 L719.43,519.56 L719.82,518.56 L720.18,517.56 L720.51,516.55 L720.79,515.55 L721.05,514.54 L721.26,513.53 L721.45,512.53 L721.59,511.52 L721.71,510.51 L721.78,509.51 L721.82,508.51 L721.83,507.50 L721.81,506.50 L721.74,505.51 L721.65,504.51 L721.52,503.52 L721.36,502.53 L721.16,501.55 L720.94,500.57 L720.68,499.59 L720.38,498.61 L720.06,497.65 L719.70,496.68 L719.31,495.72 L718.89,494.77 L718.44,493.82 L717.96,492.88 L717.44,491.95 L716.90,491.02 L716.33,490.10 L715.73,489.18 L715.10,488.27 L714.44,487.37 L713.75,486.48 L713.04,485.59 L712.30,484.72 L711.53,483.85 L710.73,482.99 L709.91,482.13 L709.06,481.29 L708.18,480.46 L707.28,479.63 L706.36,478.81 L705.41,478.01 L704.43,477.21 L703.44,476.42 L702.42,475.65 L701.37,474.88 L700.31,474.12 L699.22,473.37 L698.11,472.64 L696.97,471.91 L695.82,471.20 L694.65,470.49 L693.45,469.80 L692.24,469.12 L691.01,468.45 L689.76,467.79 L688.49,467.14 L687.20,466.50 L685.89,465.88 L684.57,465.27 L683.23,464.67 L681.87,464.08 L680.50,463.50 L679.11,462.94 L677.70,462.38 L676.28,461.84 L674.85,461.31 L673.40,460.80 L671.94,460.30 L670.46,459.81 L668.97,459.33 L667.47,458.86 L665.95,458.41 L664.43,457.97 L662.89,457.54 L661.34,457.13 L659.78,456.73 L658.21,456.34 L656.63,455.97 L655.04,455.61 L653.44,455.26 L651.83,454.92 L650.21,454.60 L648.59,454.29 L646.95,453.99 L645.31,453.71 L643.66,453.44 L642.01,453.19 L640.35,452.95 L638.68,452.72 L637.01,452.50 L635.33,452.30 L633.64,452.11 L631.96,451.93 L630.26,451.77 L628.57,451.63 L626.87,451.49 L625.16,451.37 L623.46,451.26 L621.75,451.17 L620.03,451.09 L618.32,451.02 L616.61,450.97 L614.89,450.93Z" fill="url(#gs2)" />
<path d="M615.41,430.49 L617.15,430.53 L616.61,450.97 L614.89,450.93Z M617.15,430.53 L618.90,430.58 L618.32,451.02 L616.61,450.97Z M618.90,430.58 L620.64,430.64 L620.03,451.09 L618.32,451.02Z M620.64,430.64 L622.38,430.72 L621.75,451.17 L620.03,451.09Z M622.38,430.72 L624.12,430.81 L623.46,451.26 L621.75,451.17Z M624.12,430.81 L625.86,430.91 L625.16,451.37 L623.46,451.26Z M625.86,430.91 L627.59,431.03 L626.87,451.49 L625.16,451.37Z M627.59,431.03 L629.32,431.16 L628.57,451.63 L626.87,451.49Z M629.32,431.16 L631.05,431.30 L630.26,451.77 L628.57,451.63Z M631.05,431.30 L632.77,431.45 L631.96,451.93 L630.26,451.77Z M632.77,431.45 L634.49,431.62 L633.64,452.11 L631.96,451.93Z M634.49,431.62 L636.20,431.80 L635.33,452.30 L633.64,452.11Z M636.20,431.80 L637.91,432.00 L637.01,452.50 L635.33,452.30Z M637.91,432.00 L639.61,432.20 L638.68,452.72 L637.01,452.50Z M639.61,432.20 L641.30,432.42 L640.35,452.95 L638.68,452.72Z M641.30,432.42 L642.99,432.66 L642.01,453.19 L640.35,452.95Z M642.99,432.66 L644.68,432.90 L643.66,453.44 L642.01,453.19Z M644.68,432.90 L646.35,433.16 L645.31,453.71 L643.66,453.44Z M646.35,433.16 L648.02,433.43 L646.95,453.99 L645.31,453.71Z M648.02,433.43 L649.69,433.71 L648.59,454.29 L646.95,453.99Z M649.69,433.71 L651.34,434.01 L650.21,454.60 L648.59,454.29Z M651.34,434.01 L652.99,434.32 L651.83,454.92 L650.21,454.60Z M652.99,434.32 L654.62,434.64 L653.44,455.26 L651.83,454.92Z M654.62,434.64 L656.25,434.98 L655.04,455.61 L653.44,455.26Z M656.25,434.98 L657.87,435.32 L656.63,455.97 L655.04,455.61Z M657.87,435.32 L659.48,435.68 L658.21,456.34 L656.63,455.97Z M659.48,435.68 L661.07,436.06 L659.78,456.73 L658.21,456.34Z M661.07,436.06 L662.66,436.44 L661.34,457.13 L659.78,456.73Z M662.66,436.44 L664.24,436.84 L662.89,457.54 L661.34,457.13Z M664.24,436.84 L665.80,437.25 L664.43,457.97 L662.89,457.54Z M665.80,437.25 L667.35,437.67 L665.95,458.41 L664.43,457.97Z M667.35,437.67 L668.89,438.10 L667.47,458.86 L665.95,458.41Z M668.89,438.10 L670.42,438.55 L668.97,459.33 L667.47,458.86Z M670.42,438.55 L671.94,439.01 L670.46,459.81 L668.97,459.33Z M671.94,439.01 L673.44,439.48 L671.94,460.30 L670.46,459.81Z M673.44,439.48 L674.93,439.96 L673.40,460.80 L671.94,460.30Z M674.93,439.96 L676.40,440.46 L674.85,461.31 L673.40,460.80Z M676.40,440.46 L677.86,440.96 L676.28,461.84 L674.85,461.31Z M677.86,440.96 L679.31,441.48 L677.70,462.38 L676.28,461.84Z M679.31,441.48 L680.73,442.01 L679.11,462.94 L677.70,462.38Z M680.73,442.01 L682.15,442.55 L680.50,463.50 L679.11,462.94Z M682.15,442.55 L683.55,443.11 L681.87,464.08 L680.50,463.50Z M683.55,443.11 L684.93,443.67 L683.23,464.67 L681.87,464.08Z M684.93,443.67 L686.29,444.25 L684.57,465.27 L683.23,464.67Z M686.29,444.25 L687.64,444.84 L685.89,465.88 L684.57,465.27Z M687.64,444.84 L688.97,445.44 L687.20,466.50 L685.89,465.88Z M688.97,445.44 L690.28,446.05 L688.49,467.14 L687.20,466.50Z M690.28,446.05 L691.57,446.67 L689.76,467.79 L688.49,467.14Z M691.57,446.67 L692.84,447.30 L691.01,468.45 L689.76,467.79Z M692.84,447.30 L694.10,447.94 L692.24,469.12 L691.01,468.45Z M694.10,447.94 L695.33,448.60 L693.45,469.80 L692.24,469.12Z M695.33,448.60 L696.54,449.26 L694.65,470.49 L693.45,469.80Z M696.54,449.26 L697.74,449.94 L695.82,471.20 L694.65,470.49Z M697.74,449.94 L698.91,450.63 L696.97,471.91 L695.82,471.20Z M698.91,450.63 L700.06,451.32 L698.11,472.64 L696.97,471.91Z M700.06,451.32 L701.19,452.03 L699.22,473.37 L698.11,472.64Z M701.19,452.03 L702.30,452.75 L700.31,474.12 L699.22,473.37Z M702.30,452.75 L703.38,453.47 L701.37,474.88 L700.31,474.12Z M703.38,453.47 L704.45,454.21 L702.42,475.65 L701.37,474.88Z M704.45,454.21 L705.48,454.95 L703.44,476.42 L702.42,475.65Z M705.48,454.95 L706.50,455.71 L704.43,477.21 L703.44,476.42Z M706.50,455.71 L707.49,456.48 L705.41,478.01 L704.43,477.21Z M707.49,456.48 L708.46,457.25 L706.36,478.81 L705.41,478.01Z M708.46,457.25 L709.40,458.03 L707.28,479.63 L706.36,478.81Z M709.40,458.03 L710.31,458.83 L708.18,480.46 L707.28,479.63Z M710.31,458.83 L711.20,459.63 L709.06,481.29 L708.18,480.46Z M711.20,459.63 L712.07,460.44 L709.91,482.13 L709.06,481.29Z M712.07,460.44 L712.90,461.25 L710.73,482.99 L709.91,482.13Z M712.90,461.25 L713.71,462.08 L711.53,483.85 L710.73,482.99Z M713.71,462.08 L714.50,462.91 L712.30,484.72 L711.53,483.85Z M714.50,462.91 L715.25,463.76 L713.04,485.59 L712.30,484.72Z M715.25,463.76 L715.98,464.61 L713.75,486.48 L713.04,485.59Z M715.98,464.61 L716.68,465.46 L714.44,487.37 L713.75,486.48Z M716.68,465.46 L717.35,466.33 L715.10,488.27 L714.44,487.37Z M717.35,466.33 L717.99,467.20 L715.73,489.18 L715.10,488.27Z M717.99,467.20 L718.60,468.08 L716.33,490.10 L715.73,489.18Z M718.60,468.08 L719.18,468.96 L716.90,491.02 L716.33,490.10Z M719.18,468.96 L719.74,469.85 L717.44,491.95 L716.90,491.02Z M719.74,469.85 L720.26,470.75 L717.96,492.88 L717.44,491.95Z M720.26,470.75 L720.75,471.65 L718.44,493.82 L717.96,492.88Z M720.75,471.65 L721.21,472.56 L718.89,494.77 L718.44,493.82Z M721.21,472.56 L721.63,473.48 L719.31,495.72 L718.89,494.77Z M721.63,473.48 L722.03,474.40 L719.70,496.68 L719.31,495.72Z M722.03,474.40 L722.39,475.32 L720.06,497.65 L719.70,496.68Z M722.39,475.32 L722.72,476.25 L720.38,498.61 L720.06,497.65Z M722.72,476.25 L723.02,477.19 L720.68,499.59 L720.38,498.61Z M723.02,477.19 L723.29,478.12 L720.94,500.57 L720.68,499.59Z M723.29,478.12 L723.52,479.07 L721.16,501.55 L720.94,500.57Z M723.52,479.07 L723.72,480.01 L721.36,502.53 L721.16,501.55Z M723.72,480.01 L723.88,480.96 L721.52,503.52 L721.36,502.53Z M723.88,480.96 L724.01,481.91 L721.65,504.51 L721.52,503.52Z M724.01,481.91 L724.11,482.87 L721.74,505.51 L721.65,504.51Z M724.11,482.87 L724.17,483.82 L721.81,506.50 L721.74,505.51Z M724.17,483.82 L724.20,484.78 L721.83,507.50 L721.81,506.50Z M724.20,484.78 L724.19,485.75 L721.82,508.51 L721.83,507.50Z M724.19,485.75 L724.15,486.71 L721.78,509.51 L721.82,508.51Z M724.15,486.71 L724.07,487.67 L721.71,510.51 L721.78,509.51Z M724.07,487.67 L723.96,488.64 L721.59,511.52 L721.71,510.51Z M723.96,488.64 L723.81,489.60 L721.45,512.53 L721.59,511.52Z M723.81,489.60 L723.62,490.57 L721.26,513.53 L721.45,512.53Z M723.62,490.57 L723.40,491.54 L721.05,514.54 L721.26,513.53Z M723.40,491.54 L723.14,492.50 L720.79,515.55 L721.05,514.54Z M723.14,492.50 L722.85,493.47 L720.51,516.55 L720.79,515.55Z M722.85,493.47 L722.52,494.43 L720.18,517.56 L720.51,516.55Z M722.52,494.43 L722.15,495.40 L719.82,518.56 L720.18,517.56Z M722.15,495.40 L721.75,496.36 L719.43,519.56 L719.82,518.56Z M721.75,496.36 L721.31,497.32 L718.99,520.56 L719.43,519.56Z M721.31,497.32 L720.84,498.28 L718.53,521.56 L718.99,520.56Z M720.84,498.28 L720.32,499.23 L718.02,522.56 L718.53,521.56Z M720.32,499.23 L719.77,500.18 L717.48,523.55 L718.02,522.56Z M719.77,500.18 L719.19,501.13 L716.91,524.54 L717.48,523.55Z M719.19,501.13 L718.57,502.08 L716.30,525.52 L716.91,524.54Z M718.57,502.08 L717.91,503.02 L715.65,526.50 L716.30,525.52Z M717.91,503.02 L717.21,503.95 L714.96,527.48 L715.65,526.50Z M717.21,503.95 L716.48,504.88 L714.25,528.45 L714.96,527.48Z M716.48,504.88 L715.71,505.81 L713.49,529.41 L714.25,528.45Z M715.71,505.81 L714.91,506.73 L712.70,530.37 L713.49,529.41Z M714.91,506.73 L714.07,507.65 L711.87,531.33 L712.70,530.37Z M714.07,507.65 L713.19,508.56 L711.01,532.28 L711.87,531.33Z M713.19,508.56 L712.28,509.46 L710.12,533.22 L711.01,532.28Z M712.28,509.46 L711.33,510.35 L709.18,534.15 L710.12,533.22Z M711.33,510.35 L710.35,511.24 L708.22,535.08 L709.18,534.15Z M710.35,511.24 L709.33,512.12 L707.22,535.99 L708.22,535.08Z M709.33,512.12 L708.28,513.00 L706.18,536.90 L707.22,535.99Z M708.28,513.00 L707.19,513.86 L705.11,537.80 L706.18,536.90Z M707.19,513.86 L706.06,514.72 L704.01,538.70 L705.11,537.80Z M706.06,514.72 L704.91,515.56 L702.87,539.58 L704.01,538.70Z M704.91,515.56 L703.71,516.40 L701.70,540.45 L702.87,539.58Z M703.71,516.40 L702.49,517.23 L700.49,541.31 L701.70,540.45Z M702.49,517.23 L701.23,518.05 L699.25,542.17 L700.49,541.31Z M701.23,518.05 L699.94,518.85 L697.98,543.01 L699.25,542.17Z M699.94,518.85 L698.61,519.65 L696.68,543.84 L697.98,543.01Z M698.61,519.65 L697.26,520.44 L695.35,544.65 L696.68,543.84Z M697.26,520.44 L695.87,521.21 L693.98,545.46 L695.35,544.65Z M695.87,521.21 L694.45,521.97 L692.58,546.26 L693.98,545.46Z M694.45,521.97 L692.99,522.72 L691.16,547.04 L692.58,546.26Z M692.99,522.72 L691.51,523.46 L689.70,547.81 L691.16,547.04Z M691.51,523.46 L690.00,524.18 L688.21,548.56 L689.70,547.81Z M690.00,524.18 L688.45,524.90 L686.70,549.30 L688.21,548.56Z M688.45,524.90 L686.88,525.59 L685.15,550.03 L686.70,549.30Z M686.88,525.59 L685.28,526.28 L683.58,550.74 L685.15,550.03Z M685.28,526.28 L683.65,526.95 L681.98,551.44 L683.58,550.74Z M683.65,526.95 L682.00,527.61 L680.35,552.13 L681.98,551.44Z M682.00,527.61 L680.31,528.25 L678.69,552.79 L680.35,552.13Z M680.31,528.25 L678.60,528.87 L677.01,553.45 L678.69,552.79Z M678.60,528.87 L676.87,529.48 L675.30,554.08 L677.01,553.45Z M676.87,529.48 L675.10,530.08 L673.57,554.70 L675.30,554.08Z M675.10,530.08 L673.32,530.66 L671.82,555.31 L673.57,554.70Z M673.32,530.66 L671.51,531.22 L670.04,555.90 L671.82,555.31Z M671.51,531.22 L669.67,531.77 L668.23,556.47 L670.04,555.90Z M669.67,531.77 L667.81,532.30 L666.41,557.02 L668.23,556.47Z M667.81,532.30 L665.94,532.82 L664.56,557.56 L666.41,557.02Z M665.94,532.82 L664.03,533.31 L662.69,558.07 L664.56,557.56Z M664.03,533.31 L662.11,533.79 L660.80,558.57 L662.69,558.07Z M662.11,533.79 L660.17,534.26 L658.89,559.05 L660.80,558.57Z M660.17,534.26 L658.21,534.70 L656.97,559.52 L658.89,559.05Z M658.21,534.70 L656.23,535.13 L655.02,559.96 L656.97,559.52Z M656.23,535.13 L654.23,535.54 L653.06,560.39 L655.02,559.96Z M654.23,535.54 L652.22,535.93 L651.08,560.79 L653.06,560.39Z M652.22,535.93 L650.19,536.30 L649.08,561.18 L651.08,560.79Z M650.19,536.30 L648.14,536.65 L647.07,561.55 L649.08,561.18Z M648.14,536.65 L646.08,536.98 L645.04,561.90 L647.07,561.55Z M646.08,536.98 L644.01,537.30 L643.01,562.22 L645.04,561.90Z M644.01,537.30 L641.92,537.59 L640.95,562.53 L643.01,562.22Z M641.92,537.59 L639.82,537.87 L638.89,562.82 L640.95,562.53Z M639.82,537.87 L637.71,538.13 L636.81,563.09 L638.89,562.82Z M637.71,538.13 L635.59,538.36 L634.73,563.33 L636.81,563.09Z M635.59,538.36 L633.46,538.58 L632.63,563.56 L634.73,563.33Z M633.46,538.58 L631.31,538.78 L630.53,563.77 L632.63,563.56Z M631.31,538.78 L629.17,538.96 L628.42,563.95 L630.53,563.77Z M629.17,538.96 L627.01,539.11 L626.30,564.12 L628.42,563.95Z M627.01,539.11 L624.85,539.25 L624.17,564.26 L626.30,564.12Z M624.85,539.25 L622.68,539.37 L622.04,564.38 L624.17,564.26Z M622.68,539.37 L620.51,539.46 L619.90,564.48 L622.04,564.38Z M620.51,539.46 L618.33,539.54 L617.76,564.56 L619.90,564.48Z M618.33,539.54 L616.15,539.60 L615.62,564.62 L617.76,564.56Z M616.15,539.60 L613.97,539.63 L613.48,564.66 L615.62,564.62Z M613.97,539.63 L611.79,539.65 L611.33,564.67 L613.48,564.66Z M611.79,539.65 L609.61,539.64 L609.19,564.67 L611.33,564.67Z M609.61,539.64 L607.42,539.62 L607.04,564.64 L609.19,564.67Z M607.42,539.62 L605.24,539.57 L604.90,564.60 L607.04,564.64Z M605.24,539.57 L603.07,539.51 L602.76,564.53 L604.90,564.60Z M603.07,539.51 L600.89,539.42 L600.62,564.44 L602.76,564.53Z M600.89,539.42 L598.72,539.32 L598.49,564.33 L600.62,564.44Z M598.72,539.32 L596.56,539.19 L596.36,564.20 L598.49,564.33Z M596.56,539.19 L594.40,539.04 L594.24,564.04 L596.36,564.20Z M594.40,539.04 L592.24,538.88 L592.12,563.87 L594.24,564.04Z M592.24,538.88 L590.10,538.69 L590.01,563.67 L592.12,563.87Z M590.10,538.69 L587.96,538.48 L587.91,563.46 L590.01,563.67Z M587.96,538.48 L585.83,538.26 L585.82,563.22 L587.91,563.46Z M585.83,538.26 L583.72,538.01 L583.74,562.97 L585.82,563.22Z M583.72,538.01 L581.61,537.74 L581.67,562.69 L583.74,562.97Z M581.61,537.74 L579.52,537.46 L579.61,562.39 L581.67,562.69Z M579.52,537.46 L577.43,537.16 L577.56,562.08 L579.61,562.39Z M577.43,537.16 L575.37,536.83 L575.53,561.74 L577.56,562.08Z M575.37,536.83 L573.31,536.49 L573.51,561.38 L575.53,561.74Z M573.31,536.49 L571.27,536.13 L571.51,561.01 L573.51,561.38Z M571.27,536.13 L569.25,535.75 L569.52,560.61 L571.51,561.01Z M569.25,535.75 L567.24,535.35 L567.54,560.19 L569.52,560.61Z M567.24,535.35 L565.25,534.93 L565.59,559.76 L567.54,560.19Z M565.25,534.93 L563.28,534.50 L563.65,559.31 L565.59,559.76Z M563.28,534.50 L561.33,534.05 L561.73,558.84 L563.65,559.31Z M561.33,534.05 L559.40,533.57 L559.83,558.35 L561.73,558.84Z M559.40,533.57 L557.49,533.09 L557.95,557.84 L559.83,558.35Z M557.49,533.09 L555.60,532.58 L556.10,557.31 L557.95,557.84Z M555.60,532.58 L553.73,532.06 L554.26,556.77 L556.10,557.31Z M553.73,532.06 L551.88,531.52 L552.44,556.21 L554.26,556.77Z M551.88,531.52 L550.06,530.97 L550.65,555.63 L552.44,556.21Z M550.06,530.97 L548.26,530.40 L548.88,555.03 L550.65,555.63Z M548.26,530.40 L546.48,529.81 L547.14,554.42 L548.88,555.03Z M546.48,529.81 L544.73,529.21 L545.42,553.79 L547.14,554.42Z M544.73,529.21 L543.01,528.59 L543.72,553.15 L545.42,553.79Z M543.01,528.59 L541.31,527.95 L542.05,552.49 L543.72,553.15Z" fill="url(#gs2)" stroke="url(#gs2)" stroke-width="0.4" stroke-linejoin="round"/>
<path d="M611.20,479.00 L615.41,430.49 L617.15,430.53 L618.90,430.58 L620.64,430.64 L622.38,430.72 L624.12,430.81 L625.86,430.91 L627.59,431.03 L629.32,431.16 L631.05,431.30 L632.77,431.45 L634.49,431.62 L636.20,431.80 L637.91,432.00 L639.61,432.20 L641.30,432.42 L642.99,432.66 L644.68,432.90 L646.35,433.16 L648.02,433.43 L649.69,433.71 L651.34,434.01 L652.99,434.32 L654.62,434.64 L656.25,434.98 L657.87,435.32 L659.48,435.68 L661.07,436.06 L662.66,436.44 L664.24,436.84 L665.80,437.25 L667.35,437.67 L668.89,438.10 L670.42,438.55 L671.94,439.01 L673.44,439.48 L674.93,439.96 L676.40,440.46 L677.86,440.96 L679.31,441.48 L680.73,442.01 L682.15,442.55 L683.55,443.11 L684.93,443.67 L686.29,444.25 L687.64,444.84 L688.97,445.44 L690.28,446.05 L691.57,446.67 L692.84,447.30 L694.10,447.94 L695.33,448.60 L696.54,449.26 L697.74,449.94 L698.91,450.63 L700.06,451.32 L701.19,452.03 L702.30,452.75 L703.38,453.47 L704.45,454.21 L705.48,454.95 L706.50,455.71 L707.49,456.48 L708.46,457.25 L709.40,458.03 L710.31,458.83 L711.20,459.63 L712.07,460.44 L712.90,461.25 L713.71,462.08 L714.50,462.91 L715.25,463.76 L715.98,464.61 L716.68,465.46 L717.35,466.33 L717.99,467.20 L718.60,468.08 L719.18,468.96 L719.74,469.85 L720.26,470.75 L720.75,471.65 L721.21,472.56 L721.63,473.48 L722.03,474.40 L722.39,475.32 L722.72,476.25 L723.02,477.19 L723.29,478.12 L723.52,479.07 L723.72,480.01 L723.88,480.96 L724.01,481.91 L724.11,482.87 L724.17,483.82 L724.20,484.78 L724.19,485.75 L724.15,486.71 L724.07,487.67 L723.96,488.64 L723.81,489.60 L723.62,490.57 L723.40,491.54 L723.14,492.50 L722.85,493.47 L722.52,494.43 L722.15,495.40 L721.75,496.36 L721.31,497.32 L720.84,498.28 L720.32,499.23 L719.77,500.18 L719.19,501.13 L718.57,502.08 L717.91,503.02 L717.21,503.95 L716.48,504.88 L715.71,505.81 L714.91,506.73 L714.07,507.65 L713.19,508.56 L712.28,509.46 L711.33,510.35 L710.35,511.24 L709.33,512.12 L708.28,513.00 L707.19,513.86 L706.06,514.72 L704.91,515.56 L703.71,516.40 L702.49,517.23 L701.23,518.05 L699.94,518.85 L698.61,519.65 L697.26,520.44 L695.87,521.21 L694.45,521.97 L692.99,522.72 L691.51,523.46 L690.00,524.18 L688.45,524.90 L686.88,525.59 L685.28,526.28 L683.65,526.95 L682.00,527.61 L680.31,528.25 L678.60,528.87 L676.87,529.48 L675.10,530.08 L673.32,530.66 L671.51,531.22 L669.67,531.77 L667.81,532.30 L665.94,532.82 L664.03,533.31 L662.11,533.79 L660.17,534.26 L658.21,534.70 L656.23,535.13 L654.23,535.54 L652.22,535.93 L650.19,536.30 L648.14,536.65 L646.08,536.98 L644.01,537.30 L641.92,537.59 L639.82,537.87 L637.71,538.13 L635.59,538.36 L633.46,538.58 L631.31,538.78 L629.17,538.96 L627.01,539.11 L624.85,539.25 L622.68,539.37 L620.51,539.46 L618.33,539.54 L616.15,539.60 L613.97,539.63 L611.79,539.65 L609.61,539.64 L607.42,539.62 L605.24,539.57 L603.07,539.51 L600.89,539.42 L598.72,539.32 L596.56,539.19 L594.40,539.04 L592.24,538.88 L590.10,538.69 L587.96,538.48 L585.83,538.26 L583.72,538.01 L581.61,537.74 L579.52,537.46 L577.43,537.16 L575.37,536.83 L573.31,536.49 L571.27,536.13 L569.25,535.75 L567.24,535.35 L565.25,534.93 L563.28,534.50 L561.33,534.05 L559.40,533.57 L557.49,533.09 L555.60,532.58 L553.73,532.06 L551.88,531.52 L550.06,530.97 L548.26,530.40 L546.48,529.81 L544.73,529.21 L543.01,528.59 L541.31,527.95Z" fill="#99AB7E" stroke="#99AB7E" stroke-width="0.5"/>
<rect x="750.2" y="373.8" width="7.7" height="7" fill="#CDB96F"/>
<text x="759.90" y="380.9" font-size="13.33" font-weight="normal" xml:space="preserve" textLength="130.03" lengthAdjust="spacing">несовершеннолетними</text>
<text x="759.90" y="396.5" font-size="13.33" font-weight="normal" xml:space="preserve" textLength="124.56" lengthAdjust="spacing">или при их  соучастии</text>
<rect x="750.2" y="430.5" width="7.7" height="7" fill="#99AB7E"/>
<text x="759.90" y="437.9" font-size="13.33" font-weight="normal" xml:space="preserve" textLength="123.06" lengthAdjust="spacing">ранее совершавшими</text>
<rect x="750.2" y="486.2" width="7.7" height="7" fill="#69A9C9"/>
<text x="759.90" y="493.5" font-size="13.33" font-weight="normal" xml:space="preserve" textLength="69.26" lengthAdjust="spacing">в состоянии</text>
<text x="759.90" y="509.2" font-size="13.33" font-weight="normal" xml:space="preserve" textLength="139.86" lengthAdjust="spacing">алкогольного  опьянения</text>
<rect x="750.2" y="542.5" width="7.7" height="7" fill="#6E86CC"/>
<text x="759.90" y="549.8" font-size="13.33" font-weight="normal" xml:space="preserve" textLength="69.26" lengthAdjust="spacing">в состоянии</text>
<text x="759.90" y="565.7" font-size="13.33" font-weight="normal" xml:space="preserve" textLength="88.52" lengthAdjust="spacing">наркотического</text>
<text x="759.90" y="580.7" font-size="13.33" font-weight="normal" xml:space="preserve" textLength="59.45" lengthAdjust="spacing">опьянения</text>
<rect x="750.2" y="599.2" width="7.7" height="7" fill="#FF0000"/>
<text x="759.90" y="606.3" font-size="13.33" font-weight="normal" xml:space="preserve" textLength="49.24" lengthAdjust="spacing">в группе</text>
<text x="656.12" y="498.7" font-size="13.33" font-weight="normal" xml:space="preserve" style="word-spacing:1.6px" textLength="51.84" lengthAdjust="spacingAndGlyphs">161; 59%</text>
<text x="456.35" y="472.8" font-size="13.33" font-weight="normal" xml:space="preserve" style="word-spacing:1.6px" textLength="44.24" lengthAdjust="spacingAndGlyphs">92; 33%</text>
<text x="517.46" y="416.7" font-size="13.33" font-weight="normal" xml:space="preserve" style="word-spacing:1.6px" textLength="31.22" lengthAdjust="spacingAndGlyphs">5; 2%</text>
<text x="553.77" y="410.6" font-size="13.33" font-weight="normal" xml:space="preserve" style="word-spacing:1.6px" textLength="40.07" lengthAdjust="spacingAndGlyphs">13; 5%</text>
<text x="605.64" y="424.4" font-size="13.33" font-weight="normal" xml:space="preserve" style="word-spacing:1.6px" textLength="31.73" lengthAdjust="spacingAndGlyphs">3; 1%</text>
</svg>
</body></html>
